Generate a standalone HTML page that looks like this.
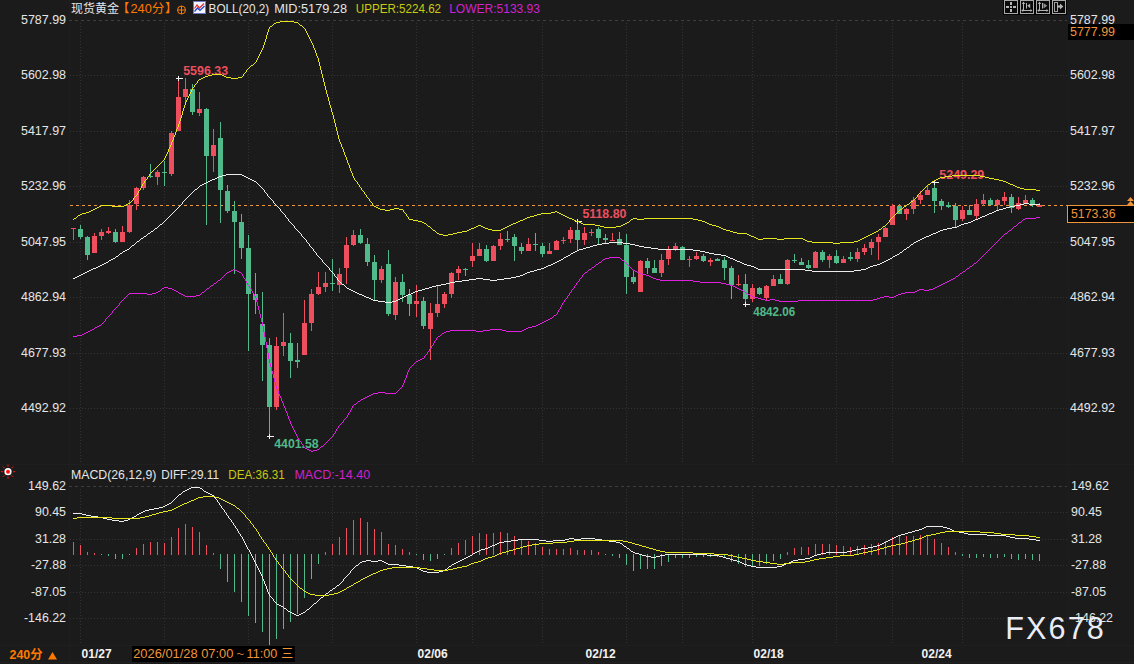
<!DOCTYPE html>
<html lang="zh"><head><meta charset="utf-8"><title>现货黄金 240分</title>
<style>html,body{margin:0;padding:0;background:#1b1b1b;}body{width:1134px;height:664px;overflow:hidden}svg{display:block}</style>
</head><body>
<svg width="1134" height="664" viewBox="0 0 1134 664" font-family="'Liberation Sans','Noto Sans CJK SC',sans-serif" font-size="12">
<rect width="1134" height="664" fill="#1b1b1b"/>
<g shape-rendering="crispEdges" stroke="#1e1e1e" stroke-width="1" fill="none">
<line x1="69.5" y1="0" x2="69.5" y2="664"/>
<line x1="1068.5" y1="20" x2="1068.5" y2="645"/>
<line x1="0" y1="464.5" x2="1134" y2="464.5" stroke="#1f1f1f"/>
<line x1="0" y1="645.5" x2="1134" y2="645.5" stroke="#1f1f1f"/>
<line x1="0" y1="662.5" x2="1134" y2="662.5" stroke="#1f1f1f"/>
</g>
<g shape-rendering="crispEdges" stroke="#333333" stroke-width="1" fill="none">
<line x1="69" y1="20.5" x2="1067" y2="20.5" stroke="#3e3e3e" stroke-dasharray="3 3"/>
<line x1="70" y1="75.5" x2="1067" y2="75.5" stroke-dasharray="1 2"/>
<line x1="70" y1="131.5" x2="1067" y2="131.5" stroke-dasharray="1 2"/>
<line x1="70" y1="186.5" x2="1067" y2="186.5" stroke-dasharray="1 2"/>
<line x1="70" y1="242.5" x2="1067" y2="242.5" stroke-dasharray="1 2"/>
<line x1="70" y1="297.5" x2="1067" y2="297.5" stroke-dasharray="1 2"/>
<line x1="70" y1="353.5" x2="1067" y2="353.5" stroke-dasharray="1 2"/>
<line x1="70" y1="408.5" x2="1067" y2="408.5" stroke-dasharray="1 2"/>
<line x1="69" y1="486.5" x2="1067" y2="486.5" stroke="#3e3e3e" stroke-dasharray="3 3"/>
<line x1="70" y1="512.5" x2="1067" y2="512.5" stroke-dasharray="1 2"/>
<line x1="70" y1="539.5" x2="1067" y2="539.5" stroke-dasharray="1 2"/>
<line x1="70" y1="565.5" x2="1067" y2="565.5" stroke-dasharray="1 2"/>
<line x1="70" y1="592.5" x2="1067" y2="592.5" stroke-dasharray="1 2"/>
<line x1="70" y1="618.5" x2="1067" y2="618.5" stroke-dasharray="1 2"/>
<line x1="80.5" y1="23" x2="80.5" y2="462" stroke-dasharray="1 2"/>
<line x1="80.5" y1="489" x2="80.5" y2="644" stroke-dasharray="1 2"/>
<line x1="164.5" y1="23" x2="164.5" y2="462" stroke-dasharray="1 2"/>
<line x1="164.5" y1="489" x2="164.5" y2="644" stroke-dasharray="1 2"/>
<line x1="248.5" y1="23" x2="248.5" y2="462" stroke-dasharray="1 2"/>
<line x1="248.5" y1="489" x2="248.5" y2="644" stroke-dasharray="1 2"/>
<line x1="332.5" y1="23" x2="332.5" y2="462" stroke-dasharray="1 2"/>
<line x1="332.5" y1="489" x2="332.5" y2="644" stroke-dasharray="1 2"/>
<line x1="416.5" y1="23" x2="416.5" y2="462" stroke-dasharray="1 2"/>
<line x1="416.5" y1="489" x2="416.5" y2="644" stroke-dasharray="1 2"/>
<line x1="472.5" y1="23" x2="472.5" y2="462" stroke-dasharray="1 2"/>
<line x1="472.5" y1="489" x2="472.5" y2="644" stroke-dasharray="1 2"/>
<line x1="542.5" y1="23" x2="542.5" y2="462" stroke-dasharray="1 2"/>
<line x1="542.5" y1="489" x2="542.5" y2="644" stroke-dasharray="1 2"/>
<line x1="626.5" y1="23" x2="626.5" y2="462" stroke-dasharray="1 2"/>
<line x1="626.5" y1="489" x2="626.5" y2="644" stroke-dasharray="1 2"/>
<line x1="682.5" y1="23" x2="682.5" y2="462" stroke-dasharray="1 2"/>
<line x1="682.5" y1="489" x2="682.5" y2="644" stroke-dasharray="1 2"/>
<line x1="752.5" y1="23" x2="752.5" y2="462" stroke-dasharray="1 2"/>
<line x1="752.5" y1="489" x2="752.5" y2="644" stroke-dasharray="1 2"/>
<line x1="836.5" y1="23" x2="836.5" y2="462" stroke-dasharray="1 2"/>
<line x1="836.5" y1="489" x2="836.5" y2="644" stroke-dasharray="1 2"/>
<line x1="892.5" y1="23" x2="892.5" y2="462" stroke-dasharray="1 2"/>
<line x1="892.5" y1="489" x2="892.5" y2="644" stroke-dasharray="1 2"/>
<line x1="962.5" y1="23" x2="962.5" y2="462" stroke-dasharray="1 2"/>
<line x1="962.5" y1="489" x2="962.5" y2="644" stroke-dasharray="1 2"/>
</g>
<text x="66" y="24.3" text-anchor="end" fill="#e6e6e6" textLength="45" lengthAdjust="spacingAndGlyphs">5787.99</text>
<text x="1070" y="24.3" text-anchor="start" fill="#e6e6e6" textLength="45" lengthAdjust="spacingAndGlyphs">5787.99</text>
<text x="66" y="79.4" text-anchor="end" fill="#e6e6e6" textLength="45" lengthAdjust="spacingAndGlyphs">5602.98</text>
<text x="1070" y="79.4" text-anchor="start" fill="#e6e6e6" textLength="45" lengthAdjust="spacingAndGlyphs">5602.98</text>
<text x="66" y="134.9" text-anchor="end" fill="#e6e6e6" textLength="45" lengthAdjust="spacingAndGlyphs">5417.97</text>
<text x="1070" y="134.9" text-anchor="start" fill="#e6e6e6" textLength="45" lengthAdjust="spacingAndGlyphs">5417.97</text>
<text x="66" y="190.4" text-anchor="end" fill="#e6e6e6" textLength="45" lengthAdjust="spacingAndGlyphs">5232.96</text>
<text x="1070" y="190.4" text-anchor="start" fill="#e6e6e6" textLength="45" lengthAdjust="spacingAndGlyphs">5232.96</text>
<text x="66" y="245.9" text-anchor="end" fill="#e6e6e6" textLength="45" lengthAdjust="spacingAndGlyphs">5047.95</text>
<text x="1070" y="245.9" text-anchor="start" fill="#e6e6e6" textLength="45" lengthAdjust="spacingAndGlyphs">5047.95</text>
<text x="66" y="301.4" text-anchor="end" fill="#e6e6e6" textLength="45" lengthAdjust="spacingAndGlyphs">4862.94</text>
<text x="1070" y="301.4" text-anchor="start" fill="#e6e6e6" textLength="45" lengthAdjust="spacingAndGlyphs">4862.94</text>
<text x="66" y="356.9" text-anchor="end" fill="#e6e6e6" textLength="45" lengthAdjust="spacingAndGlyphs">4677.93</text>
<text x="1070" y="356.9" text-anchor="start" fill="#e6e6e6" textLength="45" lengthAdjust="spacingAndGlyphs">4677.93</text>
<text x="66" y="412.4" text-anchor="end" fill="#e6e6e6" textLength="45" lengthAdjust="spacingAndGlyphs">4492.92</text>
<text x="1070" y="412.4" text-anchor="start" fill="#e6e6e6" textLength="45" lengthAdjust="spacingAndGlyphs">4492.92</text>
<text x="66" y="490.3" text-anchor="end" fill="#e6e6e6" textLength="38" lengthAdjust="spacingAndGlyphs">149.62</text>
<text x="1071" y="490.3" text-anchor="start" fill="#e6e6e6" textLength="38" lengthAdjust="spacingAndGlyphs">149.62</text>
<text x="66" y="516.4" text-anchor="end" fill="#e6e6e6" textLength="31" lengthAdjust="spacingAndGlyphs">90.45</text>
<text x="1071" y="516.4" text-anchor="start" fill="#e6e6e6" textLength="31" lengthAdjust="spacingAndGlyphs">90.45</text>
<text x="66" y="542.9" text-anchor="end" fill="#e6e6e6" textLength="31" lengthAdjust="spacingAndGlyphs">31.28</text>
<text x="1071" y="542.9" text-anchor="start" fill="#e6e6e6" textLength="31" lengthAdjust="spacingAndGlyphs">31.28</text>
<text x="66" y="569.2" text-anchor="end" fill="#e6e6e6" textLength="35" lengthAdjust="spacingAndGlyphs">-27.88</text>
<text x="1071" y="569.2" text-anchor="start" fill="#e6e6e6" textLength="35" lengthAdjust="spacingAndGlyphs">-27.88</text>
<text x="66" y="595.9" text-anchor="end" fill="#e6e6e6" textLength="35" lengthAdjust="spacingAndGlyphs">-87.05</text>
<text x="1071" y="595.9" text-anchor="start" fill="#e6e6e6" textLength="35" lengthAdjust="spacingAndGlyphs">-87.05</text>
<text x="66" y="622.2" text-anchor="end" fill="#e6e6e6" textLength="42" lengthAdjust="spacingAndGlyphs">-146.22</text>
<text x="1071" y="622.2" text-anchor="start" fill="#e6e6e6" textLength="42" lengthAdjust="spacingAndGlyphs">-146.22</text>
<line x1="70" y1="205.5" x2="1067" y2="205.5" stroke="#f0953a" stroke-width="1" stroke-dasharray="3 3" shape-rendering="crispEdges"/>
<g shape-rendering="crispEdges">
<rect x="73" y="228" width="1" height="12" fill="#ee4f5e"/>
<rect x="71" y="228" width="5" height="1" fill="#ee4f5e"/>
<rect x="80" y="225" width="1" height="14" fill="#52b98a"/>
<rect x="78" y="229" width="5" height="8" fill="#52b98a"/>
<rect x="87" y="236" width="1" height="24" fill="#52b98a"/>
<rect x="85" y="237" width="5" height="18" fill="#52b98a"/>
<rect x="94" y="233" width="1" height="20" fill="#ee4f5e"/>
<rect x="92" y="236" width="5" height="17" fill="#ee4f5e"/>
<rect x="101" y="229" width="1" height="11" fill="#ee4f5e"/>
<rect x="99" y="232" width="5" height="4" fill="#ee4f5e"/>
<rect x="108" y="227" width="1" height="7" fill="#ee4f5e"/>
<rect x="106" y="231" width="5" height="2" fill="#ee4f5e"/>
<rect x="115" y="229" width="1" height="14" fill="#52b98a"/>
<rect x="113" y="232" width="5" height="10" fill="#52b98a"/>
<rect x="122" y="226" width="1" height="16" fill="#ee4f5e"/>
<rect x="120" y="232" width="5" height="10" fill="#ee4f5e"/>
<rect x="129" y="200" width="1" height="33" fill="#ee4f5e"/>
<rect x="127" y="205" width="5" height="27" fill="#ee4f5e"/>
<rect x="136" y="187" width="1" height="23" fill="#ee4f5e"/>
<rect x="134" y="188" width="5" height="16" fill="#ee4f5e"/>
<rect x="143" y="176" width="1" height="14" fill="#ee4f5e"/>
<rect x="141" y="177" width="5" height="11" fill="#ee4f5e"/>
<rect x="150" y="164" width="1" height="14" fill="#52b98a"/>
<rect x="148" y="176" width="5" height="1" fill="#52b98a"/>
<rect x="157" y="170" width="1" height="15" fill="#ee4f5e"/>
<rect x="155" y="172" width="5" height="5" fill="#ee4f5e"/>
<rect x="164" y="161" width="1" height="25" fill="#52b98a"/>
<rect x="162" y="172" width="5" height="1" fill="#52b98a"/>
<rect x="171" y="131" width="1" height="45" fill="#ee4f5e"/>
<rect x="169" y="133" width="5" height="41" fill="#ee4f5e"/>
<rect x="178" y="78" width="1" height="53" fill="#ee4f5e"/>
<rect x="176" y="97" width="5" height="34" fill="#ee4f5e"/>
<rect x="185" y="78" width="1" height="25" fill="#ee4f5e"/>
<rect x="183" y="89" width="5" height="8" fill="#ee4f5e"/>
<rect x="192" y="84" width="1" height="31" fill="#52b98a"/>
<rect x="190" y="89" width="5" height="23" fill="#52b98a"/>
<rect x="199" y="92" width="1" height="24" fill="#ee4f5e"/>
<rect x="197" y="109" width="5" height="4" fill="#ee4f5e"/>
<rect x="206" y="108" width="1" height="117" fill="#52b98a"/>
<rect x="204" y="109" width="5" height="47" fill="#52b98a"/>
<rect x="213" y="129" width="1" height="43" fill="#ee4f5e"/>
<rect x="211" y="145" width="5" height="11" fill="#ee4f5e"/>
<rect x="220" y="122" width="1" height="101" fill="#52b98a"/>
<rect x="218" y="138" width="5" height="52" fill="#52b98a"/>
<rect x="227" y="185" width="1" height="28" fill="#52b98a"/>
<rect x="225" y="191" width="5" height="20" fill="#52b98a"/>
<rect x="234" y="201" width="1" height="73" fill="#52b98a"/>
<rect x="232" y="211" width="5" height="11" fill="#52b98a"/>
<rect x="241" y="214" width="1" height="45" fill="#52b98a"/>
<rect x="239" y="222" width="5" height="26" fill="#52b98a"/>
<rect x="248" y="235" width="1" height="116" fill="#52b98a"/>
<rect x="246" y="248" width="5" height="46" fill="#52b98a"/>
<rect x="255" y="273" width="1" height="41" fill="#52b98a"/>
<rect x="253" y="294" width="5" height="6" fill="#52b98a"/>
<rect x="262" y="292" width="1" height="89" fill="#52b98a"/>
<rect x="260" y="324" width="5" height="21" fill="#52b98a"/>
<rect x="269" y="338" width="1" height="98" fill="#52b98a"/>
<rect x="267" y="345" width="5" height="62" fill="#52b98a"/>
<rect x="276" y="337" width="1" height="73" fill="#ee4f5e"/>
<rect x="274" y="346" width="5" height="61" fill="#ee4f5e"/>
<rect x="283" y="313" width="1" height="43" fill="#ee4f5e"/>
<rect x="281" y="342" width="5" height="4" fill="#ee4f5e"/>
<rect x="290" y="333" width="1" height="45" fill="#52b98a"/>
<rect x="288" y="343" width="5" height="18" fill="#52b98a"/>
<rect x="297" y="343" width="1" height="25" fill="#52b98a"/>
<rect x="295" y="360" width="5" height="2" fill="#52b98a"/>
<rect x="304" y="300" width="1" height="55" fill="#ee4f5e"/>
<rect x="302" y="323" width="5" height="32" fill="#ee4f5e"/>
<rect x="311" y="289" width="1" height="42" fill="#ee4f5e"/>
<rect x="309" y="294" width="5" height="29" fill="#ee4f5e"/>
<rect x="318" y="272" width="1" height="23" fill="#ee4f5e"/>
<rect x="316" y="287" width="5" height="7" fill="#ee4f5e"/>
<rect x="325" y="272" width="1" height="20" fill="#ee4f5e"/>
<rect x="323" y="283" width="5" height="4" fill="#ee4f5e"/>
<rect x="332" y="259" width="1" height="32" fill="#52b98a"/>
<rect x="330" y="283" width="5" height="1" fill="#52b98a"/>
<rect x="339" y="268" width="1" height="25" fill="#ee4f5e"/>
<rect x="337" y="274" width="5" height="11" fill="#ee4f5e"/>
<rect x="346" y="237" width="1" height="47" fill="#ee4f5e"/>
<rect x="344" y="245" width="5" height="23" fill="#ee4f5e"/>
<rect x="353" y="230" width="1" height="16" fill="#ee4f5e"/>
<rect x="351" y="235" width="5" height="10" fill="#ee4f5e"/>
<rect x="360" y="229" width="1" height="15" fill="#52b98a"/>
<rect x="358" y="235" width="5" height="8" fill="#52b98a"/>
<rect x="367" y="238" width="1" height="28" fill="#52b98a"/>
<rect x="365" y="244" width="5" height="18" fill="#52b98a"/>
<rect x="374" y="255" width="1" height="45" fill="#52b98a"/>
<rect x="372" y="262" width="5" height="18" fill="#52b98a"/>
<rect x="381" y="266" width="1" height="17" fill="#ee4f5e"/>
<rect x="379" y="269" width="5" height="11" fill="#ee4f5e"/>
<rect x="388" y="250" width="1" height="66" fill="#52b98a"/>
<rect x="386" y="264" width="5" height="50" fill="#52b98a"/>
<rect x="395" y="277" width="1" height="43" fill="#ee4f5e"/>
<rect x="393" y="282" width="5" height="33" fill="#ee4f5e"/>
<rect x="402" y="274" width="1" height="28" fill="#52b98a"/>
<rect x="400" y="282" width="5" height="13" fill="#52b98a"/>
<rect x="409" y="289" width="1" height="27" fill="#52b98a"/>
<rect x="407" y="295" width="5" height="9" fill="#52b98a"/>
<rect x="416" y="285" width="1" height="32" fill="#ee4f5e"/>
<rect x="414" y="301" width="5" height="3" fill="#ee4f5e"/>
<rect x="423" y="297" width="1" height="32" fill="#52b98a"/>
<rect x="421" y="301" width="5" height="25" fill="#52b98a"/>
<rect x="430" y="303" width="1" height="57" fill="#ee4f5e"/>
<rect x="428" y="313" width="5" height="16" fill="#ee4f5e"/>
<rect x="437" y="286" width="1" height="31" fill="#ee4f5e"/>
<rect x="435" y="304" width="5" height="9" fill="#ee4f5e"/>
<rect x="444" y="292" width="1" height="16" fill="#ee4f5e"/>
<rect x="442" y="294" width="5" height="10" fill="#ee4f5e"/>
<rect x="451" y="272" width="1" height="26" fill="#ee4f5e"/>
<rect x="449" y="273" width="5" height="21" fill="#ee4f5e"/>
<rect x="458" y="266" width="1" height="14" fill="#ee4f5e"/>
<rect x="456" y="269" width="5" height="4" fill="#ee4f5e"/>
<rect x="465" y="268" width="1" height="8" fill="#52b98a"/>
<rect x="463" y="269" width="5" height="1" fill="#52b98a"/>
<rect x="472" y="243" width="1" height="24" fill="#ee4f5e"/>
<rect x="470" y="256" width="5" height="5" fill="#ee4f5e"/>
<rect x="479" y="243" width="1" height="13" fill="#ee4f5e"/>
<rect x="477" y="249" width="5" height="7" fill="#ee4f5e"/>
<rect x="486" y="245" width="1" height="17" fill="#52b98a"/>
<rect x="484" y="249" width="5" height="12" fill="#52b98a"/>
<rect x="493" y="245" width="1" height="16" fill="#ee4f5e"/>
<rect x="491" y="246" width="5" height="15" fill="#ee4f5e"/>
<rect x="500" y="233" width="1" height="17" fill="#ee4f5e"/>
<rect x="498" y="239" width="5" height="7" fill="#ee4f5e"/>
<rect x="507" y="231" width="1" height="11" fill="#52b98a"/>
<rect x="505" y="239" width="5" height="1" fill="#52b98a"/>
<rect x="514" y="234" width="1" height="27" fill="#52b98a"/>
<rect x="512" y="237" width="5" height="9" fill="#52b98a"/>
<rect x="521" y="243" width="1" height="11" fill="#52b98a"/>
<rect x="519" y="247" width="5" height="4" fill="#52b98a"/>
<rect x="528" y="238" width="1" height="13" fill="#ee4f5e"/>
<rect x="526" y="244" width="5" height="7" fill="#ee4f5e"/>
<rect x="535" y="233" width="1" height="18" fill="#52b98a"/>
<rect x="533" y="244" width="5" height="1" fill="#52b98a"/>
<rect x="542" y="243" width="1" height="14" fill="#52b98a"/>
<rect x="540" y="246" width="5" height="8" fill="#52b98a"/>
<rect x="549" y="243" width="1" height="11" fill="#ee4f5e"/>
<rect x="547" y="251" width="5" height="3" fill="#ee4f5e"/>
<rect x="556" y="240" width="1" height="10" fill="#ee4f5e"/>
<rect x="554" y="241" width="5" height="9" fill="#ee4f5e"/>
<rect x="563" y="237" width="1" height="7" fill="#ee4f5e"/>
<rect x="561" y="240" width="5" height="1" fill="#ee4f5e"/>
<rect x="570" y="227" width="1" height="16" fill="#ee4f5e"/>
<rect x="568" y="230" width="5" height="9" fill="#ee4f5e"/>
<rect x="577" y="221" width="1" height="30" fill="#52b98a"/>
<rect x="575" y="230" width="5" height="10" fill="#52b98a"/>
<rect x="584" y="227" width="1" height="18" fill="#ee4f5e"/>
<rect x="582" y="233" width="5" height="7" fill="#ee4f5e"/>
<rect x="591" y="229" width="1" height="7" fill="#ee4f5e"/>
<rect x="589" y="232" width="5" height="1" fill="#ee4f5e"/>
<rect x="598" y="227" width="1" height="17" fill="#52b98a"/>
<rect x="596" y="229" width="5" height="9" fill="#52b98a"/>
<rect x="605" y="234" width="1" height="9" fill="#52b98a"/>
<rect x="603" y="238" width="5" height="2" fill="#52b98a"/>
<rect x="612" y="233" width="1" height="8" fill="#ee4f5e"/>
<rect x="610" y="240" width="5" height="1" fill="#ee4f5e"/>
<rect x="619" y="232" width="1" height="13" fill="#52b98a"/>
<rect x="617" y="239" width="5" height="6" fill="#52b98a"/>
<rect x="626" y="234" width="1" height="60" fill="#52b98a"/>
<rect x="624" y="245" width="5" height="32" fill="#52b98a"/>
<rect x="633" y="271" width="1" height="13" fill="#52b98a"/>
<rect x="631" y="277" width="5" height="5" fill="#52b98a"/>
<rect x="640" y="260" width="1" height="32" fill="#ee4f5e"/>
<rect x="638" y="261" width="5" height="31" fill="#ee4f5e"/>
<rect x="647" y="258" width="1" height="16" fill="#52b98a"/>
<rect x="645" y="261" width="5" height="7" fill="#52b98a"/>
<rect x="654" y="260" width="1" height="13" fill="#52b98a"/>
<rect x="652" y="268" width="5" height="5" fill="#52b98a"/>
<rect x="661" y="254" width="1" height="23" fill="#ee4f5e"/>
<rect x="659" y="260" width="5" height="13" fill="#ee4f5e"/>
<rect x="668" y="246" width="1" height="19" fill="#ee4f5e"/>
<rect x="666" y="250" width="5" height="9" fill="#ee4f5e"/>
<rect x="675" y="243" width="1" height="8" fill="#ee4f5e"/>
<rect x="673" y="246" width="5" height="4" fill="#ee4f5e"/>
<rect x="682" y="246" width="1" height="14" fill="#52b98a"/>
<rect x="680" y="247" width="5" height="13" fill="#52b98a"/>
<rect x="689" y="256" width="1" height="11" fill="#ee4f5e"/>
<rect x="687" y="259" width="5" height="1" fill="#ee4f5e"/>
<rect x="696" y="252" width="1" height="8" fill="#ee4f5e"/>
<rect x="694" y="256" width="5" height="3" fill="#ee4f5e"/>
<rect x="703" y="254" width="1" height="8" fill="#52b98a"/>
<rect x="701" y="256" width="5" height="5" fill="#52b98a"/>
<rect x="710" y="258" width="1" height="8" fill="#ee4f5e"/>
<rect x="708" y="260" width="5" height="2" fill="#ee4f5e"/>
<rect x="717" y="258" width="1" height="3" fill="#52b98a"/>
<rect x="715" y="259" width="5" height="2" fill="#52b98a"/>
<rect x="724" y="257" width="1" height="23" fill="#52b98a"/>
<rect x="722" y="260" width="5" height="8" fill="#52b98a"/>
<rect x="731" y="266" width="1" height="33" fill="#52b98a"/>
<rect x="729" y="268" width="5" height="17" fill="#52b98a"/>
<rect x="738" y="275" width="1" height="11" fill="#ee4f5e"/>
<rect x="736" y="284" width="5" height="1" fill="#ee4f5e"/>
<rect x="745" y="274" width="1" height="31" fill="#52b98a"/>
<rect x="743" y="284" width="5" height="15" fill="#52b98a"/>
<rect x="752" y="284" width="1" height="18" fill="#ee4f5e"/>
<rect x="750" y="288" width="5" height="11" fill="#ee4f5e"/>
<rect x="759" y="287" width="1" height="8" fill="#52b98a"/>
<rect x="757" y="288" width="5" height="6" fill="#52b98a"/>
<rect x="766" y="285" width="1" height="16" fill="#ee4f5e"/>
<rect x="764" y="286" width="5" height="12" fill="#ee4f5e"/>
<rect x="773" y="275" width="1" height="11" fill="#ee4f5e"/>
<rect x="771" y="279" width="5" height="7" fill="#ee4f5e"/>
<rect x="780" y="274" width="1" height="10" fill="#52b98a"/>
<rect x="778" y="279" width="5" height="5" fill="#52b98a"/>
<rect x="787" y="259" width="1" height="26" fill="#ee4f5e"/>
<rect x="785" y="260" width="5" height="24" fill="#ee4f5e"/>
<rect x="794" y="254" width="1" height="9" fill="#52b98a"/>
<rect x="792" y="260" width="5" height="1" fill="#52b98a"/>
<rect x="801" y="258" width="1" height="7" fill="#52b98a"/>
<rect x="799" y="262" width="5" height="3" fill="#52b98a"/>
<rect x="808" y="260" width="1" height="9" fill="#52b98a"/>
<rect x="806" y="265" width="5" height="3" fill="#52b98a"/>
<rect x="815" y="251" width="1" height="17" fill="#ee4f5e"/>
<rect x="813" y="252" width="5" height="16" fill="#ee4f5e"/>
<rect x="822" y="250" width="1" height="12" fill="#52b98a"/>
<rect x="820" y="252" width="5" height="8" fill="#52b98a"/>
<rect x="829" y="254" width="1" height="14" fill="#ee4f5e"/>
<rect x="827" y="256" width="5" height="4" fill="#ee4f5e"/>
<rect x="836" y="250" width="1" height="14" fill="#52b98a"/>
<rect x="834" y="256" width="5" height="7" fill="#52b98a"/>
<rect x="843" y="256" width="1" height="7" fill="#ee4f5e"/>
<rect x="841" y="259" width="5" height="4" fill="#ee4f5e"/>
<rect x="850" y="252" width="1" height="9" fill="#52b98a"/>
<rect x="848" y="257" width="5" height="2" fill="#52b98a"/>
<rect x="857" y="248" width="1" height="14" fill="#ee4f5e"/>
<rect x="855" y="252" width="5" height="7" fill="#ee4f5e"/>
<rect x="864" y="244" width="1" height="11" fill="#ee4f5e"/>
<rect x="862" y="248" width="5" height="4" fill="#ee4f5e"/>
<rect x="871" y="239" width="1" height="16" fill="#ee4f5e"/>
<rect x="869" y="242" width="5" height="6" fill="#ee4f5e"/>
<rect x="878" y="234" width="1" height="26" fill="#ee4f5e"/>
<rect x="876" y="237" width="5" height="5" fill="#ee4f5e"/>
<rect x="885" y="227" width="1" height="10" fill="#ee4f5e"/>
<rect x="883" y="228" width="5" height="9" fill="#ee4f5e"/>
<rect x="892" y="204" width="1" height="21" fill="#ee4f5e"/>
<rect x="890" y="206" width="5" height="19" fill="#ee4f5e"/>
<rect x="899" y="204" width="1" height="10" fill="#52b98a"/>
<rect x="897" y="206" width="5" height="8" fill="#52b98a"/>
<rect x="906" y="208" width="1" height="12" fill="#ee4f5e"/>
<rect x="904" y="209" width="5" height="5" fill="#ee4f5e"/>
<rect x="913" y="197" width="1" height="17" fill="#ee4f5e"/>
<rect x="911" y="200" width="5" height="9" fill="#ee4f5e"/>
<rect x="920" y="191" width="1" height="13" fill="#ee4f5e"/>
<rect x="918" y="195" width="5" height="5" fill="#ee4f5e"/>
<rect x="927" y="186" width="1" height="9" fill="#ee4f5e"/>
<rect x="925" y="190" width="5" height="5" fill="#ee4f5e"/>
<rect x="934" y="182" width="1" height="31" fill="#52b98a"/>
<rect x="932" y="188" width="5" height="13" fill="#52b98a"/>
<rect x="941" y="199" width="1" height="11" fill="#52b98a"/>
<rect x="939" y="201" width="5" height="5" fill="#52b98a"/>
<rect x="948" y="202" width="1" height="6" fill="#52b98a"/>
<rect x="946" y="205" width="5" height="2" fill="#52b98a"/>
<rect x="955" y="203" width="1" height="25" fill="#52b98a"/>
<rect x="953" y="206" width="5" height="14" fill="#52b98a"/>
<rect x="962" y="206" width="1" height="15" fill="#ee4f5e"/>
<rect x="960" y="210" width="5" height="9" fill="#ee4f5e"/>
<rect x="969" y="205" width="1" height="10" fill="#52b98a"/>
<rect x="967" y="210" width="5" height="5" fill="#52b98a"/>
<rect x="976" y="199" width="1" height="20" fill="#ee4f5e"/>
<rect x="974" y="204" width="5" height="12" fill="#ee4f5e"/>
<rect x="983" y="194" width="1" height="12" fill="#ee4f5e"/>
<rect x="981" y="200" width="5" height="4" fill="#ee4f5e"/>
<rect x="990" y="198" width="1" height="7" fill="#52b98a"/>
<rect x="988" y="200" width="5" height="5" fill="#52b98a"/>
<rect x="997" y="199" width="1" height="11" fill="#ee4f5e"/>
<rect x="995" y="200" width="5" height="5" fill="#ee4f5e"/>
<rect x="1004" y="192" width="1" height="13" fill="#ee4f5e"/>
<rect x="1002" y="197" width="5" height="4" fill="#ee4f5e"/>
<rect x="1011" y="194" width="1" height="19" fill="#52b98a"/>
<rect x="1009" y="197" width="5" height="11" fill="#52b98a"/>
<rect x="1018" y="197" width="1" height="13" fill="#ee4f5e"/>
<rect x="1016" y="203" width="5" height="6" fill="#ee4f5e"/>
<rect x="1025" y="195" width="1" height="9" fill="#ee4f5e"/>
<rect x="1023" y="200" width="5" height="4" fill="#ee4f5e"/>
<rect x="1032" y="198" width="1" height="9" fill="#52b98a"/>
<rect x="1030" y="200" width="5" height="5" fill="#52b98a"/>
<rect x="1039" y="203" width="1" height="4" fill="#ee4f5e"/>
<rect x="1037" y="205" width="5" height="2" fill="#ee4f5e"/>
</g>
<g shape-rendering="crispEdges">
<rect x="73" y="542" width="1" height="13" fill="#ee4f5e"/>
<rect x="80" y="545" width="1" height="10" fill="#ee4f5e"/>
<rect x="87" y="552" width="1" height="3" fill="#ee4f5e"/>
<rect x="94" y="553" width="1" height="2" fill="#ee4f5e"/>
<rect x="101" y="554" width="1" height="1" fill="#52b98a"/>
<rect x="108" y="554" width="1" height="2" fill="#52b98a"/>
<rect x="115" y="554" width="1" height="5" fill="#52b98a"/>
<rect x="122" y="554" width="1" height="5" fill="#52b98a"/>
<rect x="129" y="554" width="1" height="1" fill="#52b98a"/>
<rect x="136" y="548" width="1" height="7" fill="#ee4f5e"/>
<rect x="143" y="544" width="1" height="11" fill="#ee4f5e"/>
<rect x="150" y="542" width="1" height="13" fill="#ee4f5e"/>
<rect x="157" y="542" width="1" height="13" fill="#ee4f5e"/>
<rect x="164" y="543" width="1" height="12" fill="#ee4f5e"/>
<rect x="171" y="537" width="1" height="18" fill="#ee4f5e"/>
<rect x="178" y="528" width="1" height="27" fill="#ee4f5e"/>
<rect x="185" y="524" width="1" height="31" fill="#ee4f5e"/>
<rect x="192" y="527" width="1" height="28" fill="#ee4f5e"/>
<rect x="199" y="532" width="1" height="23" fill="#ee4f5e"/>
<rect x="206" y="545" width="1" height="10" fill="#ee4f5e"/>
<rect x="213" y="553" width="1" height="2" fill="#ee4f5e"/>
<rect x="220" y="554" width="1" height="15" fill="#52b98a"/>
<rect x="227" y="554" width="1" height="28" fill="#52b98a"/>
<rect x="234" y="554" width="1" height="38" fill="#52b98a"/>
<rect x="241" y="554" width="1" height="48" fill="#52b98a"/>
<rect x="248" y="554" width="1" height="62" fill="#52b98a"/>
<rect x="255" y="554" width="1" height="69" fill="#52b98a"/>
<rect x="262" y="554" width="1" height="78" fill="#52b98a"/>
<rect x="269" y="554" width="1" height="91" fill="#52b98a"/>
<rect x="276" y="554" width="1" height="85" fill="#52b98a"/>
<rect x="283" y="554" width="1" height="75" fill="#52b98a"/>
<rect x="290" y="554" width="1" height="68" fill="#52b98a"/>
<rect x="297" y="554" width="1" height="60" fill="#52b98a"/>
<rect x="304" y="554" width="1" height="44" fill="#52b98a"/>
<rect x="311" y="554" width="1" height="25" fill="#52b98a"/>
<rect x="318" y="554" width="1" height="10" fill="#52b98a"/>
<rect x="325" y="552" width="1" height="3" fill="#ee4f5e"/>
<rect x="332" y="544" width="1" height="11" fill="#ee4f5e"/>
<rect x="339" y="537" width="1" height="18" fill="#ee4f5e"/>
<rect x="346" y="528" width="1" height="27" fill="#ee4f5e"/>
<rect x="353" y="520" width="1" height="35" fill="#ee4f5e"/>
<rect x="360" y="518" width="1" height="37" fill="#ee4f5e"/>
<rect x="367" y="522" width="1" height="33" fill="#ee4f5e"/>
<rect x="374" y="529" width="1" height="26" fill="#ee4f5e"/>
<rect x="381" y="532" width="1" height="23" fill="#ee4f5e"/>
<rect x="388" y="544" width="1" height="11" fill="#ee4f5e"/>
<rect x="395" y="545" width="1" height="10" fill="#ee4f5e"/>
<rect x="402" y="549" width="1" height="6" fill="#ee4f5e"/>
<rect x="409" y="552" width="1" height="3" fill="#ee4f5e"/>
<rect x="416" y="554" width="1" height="1" fill="#52b98a"/>
<rect x="423" y="554" width="1" height="6" fill="#52b98a"/>
<rect x="430" y="554" width="1" height="7" fill="#52b98a"/>
<rect x="437" y="554" width="1" height="5" fill="#52b98a"/>
<rect x="444" y="554" width="1" height="1" fill="#52b98a"/>
<rect x="451" y="548" width="1" height="7" fill="#ee4f5e"/>
<rect x="458" y="543" width="1" height="12" fill="#ee4f5e"/>
<rect x="465" y="540" width="1" height="15" fill="#ee4f5e"/>
<rect x="472" y="536" width="1" height="19" fill="#ee4f5e"/>
<rect x="479" y="533" width="1" height="22" fill="#ee4f5e"/>
<rect x="486" y="534" width="1" height="21" fill="#ee4f5e"/>
<rect x="493" y="533" width="1" height="22" fill="#ee4f5e"/>
<rect x="500" y="532" width="1" height="23" fill="#ee4f5e"/>
<rect x="507" y="533" width="1" height="22" fill="#ee4f5e"/>
<rect x="514" y="536" width="1" height="19" fill="#ee4f5e"/>
<rect x="521" y="539" width="1" height="16" fill="#ee4f5e"/>
<rect x="528" y="541" width="1" height="14" fill="#ee4f5e"/>
<rect x="535" y="543" width="1" height="12" fill="#ee4f5e"/>
<rect x="542" y="547" width="1" height="8" fill="#ee4f5e"/>
<rect x="549" y="549" width="1" height="6" fill="#ee4f5e"/>
<rect x="556" y="549" width="1" height="6" fill="#ee4f5e"/>
<rect x="563" y="549" width="1" height="6" fill="#ee4f5e"/>
<rect x="570" y="548" width="1" height="7" fill="#ee4f5e"/>
<rect x="577" y="550" width="1" height="5" fill="#ee4f5e"/>
<rect x="584" y="550" width="1" height="5" fill="#ee4f5e"/>
<rect x="591" y="550" width="1" height="5" fill="#ee4f5e"/>
<rect x="598" y="552" width="1" height="3" fill="#ee4f5e"/>
<rect x="605" y="554" width="1" height="1" fill="#52b98a"/>
<rect x="612" y="554" width="1" height="2" fill="#52b98a"/>
<rect x="619" y="554" width="1" height="4" fill="#52b98a"/>
<rect x="626" y="554" width="1" height="11" fill="#52b98a"/>
<rect x="633" y="554" width="1" height="17" fill="#52b98a"/>
<rect x="640" y="554" width="1" height="15" fill="#52b98a"/>
<rect x="647" y="554" width="1" height="15" fill="#52b98a"/>
<rect x="654" y="554" width="1" height="15" fill="#52b98a"/>
<rect x="661" y="554" width="1" height="12" fill="#52b98a"/>
<rect x="668" y="554" width="1" height="8" fill="#52b98a"/>
<rect x="675" y="554" width="1" height="4" fill="#52b98a"/>
<rect x="682" y="554" width="1" height="4" fill="#52b98a"/>
<rect x="689" y="554" width="1" height="4" fill="#52b98a"/>
<rect x="696" y="554" width="1" height="3" fill="#52b98a"/>
<rect x="703" y="554" width="1" height="3" fill="#52b98a"/>
<rect x="710" y="554" width="1" height="3" fill="#52b98a"/>
<rect x="717" y="554" width="1" height="3" fill="#52b98a"/>
<rect x="724" y="554" width="1" height="4" fill="#52b98a"/>
<rect x="731" y="554" width="1" height="8" fill="#52b98a"/>
<rect x="738" y="554" width="1" height="10" fill="#52b98a"/>
<rect x="745" y="554" width="1" height="13" fill="#52b98a"/>
<rect x="752" y="554" width="1" height="12" fill="#52b98a"/>
<rect x="759" y="554" width="1" height="12" fill="#52b98a"/>
<rect x="766" y="554" width="1" height="10" fill="#52b98a"/>
<rect x="773" y="554" width="1" height="7" fill="#52b98a"/>
<rect x="780" y="554" width="1" height="5" fill="#52b98a"/>
<rect x="787" y="552" width="1" height="3" fill="#ee4f5e"/>
<rect x="794" y="548" width="1" height="7" fill="#ee4f5e"/>
<rect x="801" y="547" width="1" height="8" fill="#ee4f5e"/>
<rect x="808" y="547" width="1" height="8" fill="#ee4f5e"/>
<rect x="815" y="544" width="1" height="11" fill="#ee4f5e"/>
<rect x="822" y="544" width="1" height="11" fill="#ee4f5e"/>
<rect x="829" y="544" width="1" height="11" fill="#ee4f5e"/>
<rect x="836" y="545" width="1" height="10" fill="#ee4f5e"/>
<rect x="843" y="546" width="1" height="9" fill="#ee4f5e"/>
<rect x="850" y="547" width="1" height="8" fill="#ee4f5e"/>
<rect x="857" y="546" width="1" height="9" fill="#ee4f5e"/>
<rect x="864" y="545" width="1" height="10" fill="#ee4f5e"/>
<rect x="871" y="544" width="1" height="11" fill="#ee4f5e"/>
<rect x="878" y="543" width="1" height="12" fill="#ee4f5e"/>
<rect x="885" y="541" width="1" height="14" fill="#ee4f5e"/>
<rect x="892" y="537" width="1" height="18" fill="#ee4f5e"/>
<rect x="899" y="536" width="1" height="19" fill="#ee4f5e"/>
<rect x="906" y="536" width="1" height="19" fill="#ee4f5e"/>
<rect x="913" y="536" width="1" height="19" fill="#ee4f5e"/>
<rect x="920" y="535" width="1" height="20" fill="#ee4f5e"/>
<rect x="927" y="536" width="1" height="19" fill="#ee4f5e"/>
<rect x="934" y="539" width="1" height="16" fill="#ee4f5e"/>
<rect x="941" y="543" width="1" height="12" fill="#ee4f5e"/>
<rect x="948" y="547" width="1" height="8" fill="#ee4f5e"/>
<rect x="955" y="552" width="1" height="3" fill="#ee4f5e"/>
<rect x="962" y="554" width="1" height="2" fill="#52b98a"/>
<rect x="969" y="554" width="1" height="4" fill="#52b98a"/>
<rect x="976" y="554" width="1" height="4" fill="#52b98a"/>
<rect x="983" y="554" width="1" height="3" fill="#52b98a"/>
<rect x="990" y="554" width="1" height="4" fill="#52b98a"/>
<rect x="997" y="554" width="1" height="4" fill="#52b98a"/>
<rect x="1004" y="554" width="1" height="3" fill="#52b98a"/>
<rect x="1011" y="554" width="1" height="5" fill="#52b98a"/>
<rect x="1018" y="554" width="1" height="6" fill="#52b98a"/>
<rect x="1025" y="554" width="1" height="5" fill="#52b98a"/>
<rect x="1032" y="554" width="1" height="6" fill="#52b98a"/>
<rect x="1039" y="554" width="1" height="7" fill="#52b98a"/>
</g>
<path d="M214 496h1v2h-1zM217 500h1v2h-1zM219 503h1v2h-1zM221 506h1v2h-1zM224 510h1v2h-1zM226 513h1v2h-1zM228 516h1v2h-1zM231 520h1v2h-1zM233 523h1v2h-1zM235 526h1v2h-1zM237 529h1v2h-1zM238 531h1v2h-1zM240 534h1v2h-1zM242 537h1v2h-1zM243 539h1v2h-1zM244 541h1v2h-1zM245 543h1v2h-1zM246 545h1v2h-1zM247 547h1v2h-1zM249 550h1v2h-1zM250 552h1v2h-1zM251 554h1v2h-1zM252 556h1v2h-1zM253 558h1v2h-1zM254 560h1v2h-1zM255 562h1v2h-1zM256 564h1v2h-1zM257 566h1v2h-1zM258 568h1v2h-1zM259 570h1v2h-1zM260 572h1v2h-1zM261 574h1v2h-1zM262 576h1v3h-1zM263 579h1v2h-1zM264 581h1v3h-1zM265 584h1v2h-1zM266 586h1v3h-1zM267 589h1v3h-1zM268 592h1v2h-1zM269 594h1v2h-1zM273 599h1v2h-1zM343 579h1v2h-1zM350 571h1v2h-1zM191 487h9v1h-9zM189 488h2v1h-2zM200 488h2v1h-2zM187 489h2v1h-2zM202 489h1v1h-1zM185 490h2v1h-2zM203 490h1v1h-1zM183 491h2v1h-2zM204 491h2v1h-2zM182 492h1v1h-1zM206 492h2v1h-2zM181 493h1v1h-1zM208 493h2v1h-2zM179 494h2v1h-2zM210 494h2v1h-2zM178 495h1v1h-1zM212 495h2v1h-2zM177 496h1v1h-1zM176 497h1v1h-1zM175 498h1v1h-1zM215 498h1v1h-1zM174 499h1v1h-1zM216 499h1v1h-1zM173 500h1v1h-1zM172 501h1v1h-1zM171 502h1v1h-1zM218 502h1v1h-1zM169 503h2v1h-2zM167 504h2v1h-2zM165 505h2v1h-2zM220 505h1v1h-1zM163 506h2v1h-2zM159 507h4v1h-4zM154 508h5v1h-5zM222 508h1v1h-1zM149 509h5v1h-5zM223 509h1v1h-1zM145 510h4v1h-4zM143 511h2v1h-2zM141 512h2v1h-2zM225 512h1v1h-1zM73 513h9v1h-9zM139 513h2v1h-2zM82 514h4v1h-4zM137 514h2v1h-2zM86 515h5v1h-5zM136 515h1v1h-1zM227 515h1v1h-1zM91 516h7v1h-7zM134 516h2v1h-2zM98 517h5v1h-5zM132 517h2v1h-2zM103 518h4v1h-4zM130 518h2v1h-2zM229 518h1v1h-1zM107 519h5v1h-5zM128 519h2v1h-2zM230 519h1v1h-1zM112 520h7v1h-7zM124 520h4v1h-4zM119 521h5v1h-5zM232 522h1v1h-1zM234 525h1v1h-1zM926 526h17v1h-17zM924 527h2v1h-2zM943 527h4v1h-4zM236 528h1v1h-1zM922 528h2v1h-2zM947 528h3v1h-3zM919 529h3v1h-3zM950 529h2v1h-2zM915 530h4v1h-4zM952 530h2v1h-2zM912 531h3v1h-3zM954 531h5v1h-5zM908 532h4v1h-4zM959 532h5v1h-5zM239 533h1v1h-1zM905 533h3v1h-3zM964 533h4v1h-4zM901 534h4v1h-4zM968 534h19v1h-19zM898 535h3v1h-3zM987 535h19v1h-19zM241 536h1v1h-1zM896 536h2v1h-2zM1006 536h4v1h-4zM894 537h2v1h-2zM1010 537h5v1h-5zM569 538h5v1h-5zM581 538h14v1h-14zM892 538h2v1h-2zM1015 538h14v1h-14zM518 539h21v1h-21zM565 539h4v1h-4zM574 539h7v1h-7zM595 539h7v1h-7zM890 539h2v1h-2zM1029 539h7v1h-7zM511 540h7v1h-7zM539 540h7v1h-7zM553 540h12v1h-12zM602 540h7v1h-7zM888 540h2v1h-2zM1036 540h4v1h-4zM504 541h7v1h-7zM546 541h7v1h-7zM609 541h7v1h-7zM886 541h2v1h-2zM499 542h5v1h-5zM616 542h4v1h-4zM884 542h2v1h-2zM497 543h2v1h-2zM620 543h2v1h-2zM882 543h2v1h-2zM495 544h2v1h-2zM622 544h1v1h-1zM880 544h2v1h-2zM492 545h3v1h-3zM623 545h1v1h-1zM877 545h3v1h-3zM490 546h2v1h-2zM624 546h2v1h-2zM873 546h4v1h-4zM488 547h2v1h-2zM626 547h1v1h-1zM868 547h5v1h-5zM485 548h3v1h-3zM627 548h2v1h-2zM861 548h7v1h-7zM248 549h1v1h-1zM481 549h4v1h-4zM629 549h1v1h-1zM856 549h5v1h-5zM479 550h2v1h-2zM630 550h1v1h-1zM852 550h4v1h-4zM477 551h2v1h-2zM631 551h2v1h-2zM847 551h5v1h-5zM475 552h2v1h-2zM633 552h2v1h-2zM826 552h21v1h-21zM473 553h2v1h-2zM635 553h4v1h-4zM821 553h5v1h-5zM472 554h1v1h-1zM639 554h3v1h-3zM665 554h42v1h-42zM817 554h4v1h-4zM470 555h2v1h-2zM642 555h4v1h-4zM660 555h5v1h-5zM707 555h12v1h-12zM814 555h3v1h-3zM468 556h2v1h-2zM646 556h5v1h-5zM656 556h4v1h-4zM719 556h4v1h-4zM812 556h2v1h-2zM466 557h2v1h-2zM651 557h5v1h-5zM723 557h3v1h-3zM810 557h2v1h-2zM464 558h2v1h-2zM726 558h4v1h-4zM805 558h5v1h-5zM462 559h2v1h-2zM730 559h3v1h-3zM798 559h7v1h-7zM366 560h5v1h-5zM378 560h4v1h-4zM460 560h2v1h-2zM733 560h4v1h-4zM793 560h5v1h-5zM362 561h4v1h-4zM371 561h7v1h-7zM382 561h2v1h-2zM458 561h2v1h-2zM737 561h3v1h-3zM791 561h2v1h-2zM360 562h2v1h-2zM384 562h2v1h-2zM456 562h2v1h-2zM740 562h2v1h-2zM789 562h2v1h-2zM359 563h1v1h-1zM386 563h2v1h-2zM454 563h2v1h-2zM742 563h2v1h-2zM786 563h3v1h-3zM358 564h1v1h-1zM388 564h11v1h-11zM452 564h2v1h-2zM744 564h3v1h-3zM784 564h2v1h-2zM356 565h2v1h-2zM399 565h7v1h-7zM451 565h1v1h-1zM747 565h4v1h-4zM782 565h2v1h-2zM355 566h1v1h-1zM406 566h7v1h-7zM449 566h2v1h-2zM751 566h5v1h-5zM777 566h5v1h-5zM354 567h1v1h-1zM413 567h4v1h-4zM448 567h1v1h-1zM756 567h21v1h-21zM353 568h1v1h-1zM417 568h2v1h-2zM447 568h1v1h-1zM352 569h1v1h-1zM419 569h2v1h-2zM445 569h2v1h-2zM351 570h1v1h-1zM421 570h2v1h-2zM443 570h2v1h-2zM423 571h4v1h-4zM439 571h4v1h-4zM427 572h12v1h-12zM349 573h1v1h-1zM348 574h1v1h-1zM347 575h1v1h-1zM346 576h1v1h-1zM345 577h1v1h-1zM344 578h1v1h-1zM342 581h1v1h-1zM341 582h1v1h-1zM340 583h1v1h-1zM339 584h1v1h-1zM337 585h2v1h-2zM336 586h1v1h-1zM335 587h1v1h-1zM333 588h2v1h-2zM332 589h1v1h-1zM330 590h2v1h-2zM329 591h1v1h-1zM328 592h1v1h-1zM326 593h2v1h-2zM325 594h1v1h-1zM324 595h1v1h-1zM270 596h1v1h-1zM323 596h1v1h-1zM271 597h1v1h-1zM321 597h2v1h-2zM272 598h1v1h-1zM320 598h1v1h-1zM319 599h1v1h-1zM318 600h1v1h-1zM274 601h1v1h-1zM317 601h1v1h-1zM275 602h1v1h-1zM316 602h1v1h-1zM276 603h1v1h-1zM314 603h2v1h-2zM277 604h2v1h-2zM313 604h1v1h-1zM279 605h2v1h-2zM312 605h1v1h-1zM281 606h2v1h-2zM311 606h1v1h-1zM283 607h1v1h-1zM310 607h1v1h-1zM284 608h2v1h-2zM309 608h1v1h-1zM286 609h1v1h-1zM307 609h2v1h-2zM287 610h1v1h-1zM306 610h1v1h-1zM288 611h2v1h-2zM305 611h1v1h-1zM290 612h2v1h-2zM303 612h2v1h-2zM292 613h2v1h-2zM301 613h2v1h-2zM294 614h2v1h-2zM299 614h2v1h-2zM296 615h3v1h-3z" fill="#ececec" shape-rendering="crispEdges"/>
<path d="M245 515h1v2h-1zM250 521h1v2h-1zM253 525h1v2h-1zM256 529h1v2h-1zM258 532h1v2h-1zM259 534h1v2h-1zM261 537h1v2h-1zM263 540h1v2h-1zM266 544h1v2h-1zM268 547h1v2h-1zM270 550h1v2h-1zM272 553h1v2h-1zM273 555h1v2h-1zM275 558h1v2h-1zM278 562h1v2h-1zM281 566h1v2h-1zM285 571h1v2h-1zM288 575h1v2h-1zM203 496h12v1h-12zM198 497h5v1h-5zM215 497h4v1h-4zM196 498h2v1h-2zM219 498h2v1h-2zM194 499h2v1h-2zM221 499h2v1h-2zM191 500h3v1h-3zM223 500h2v1h-2zM189 501h2v1h-2zM225 501h2v1h-2zM187 502h2v1h-2zM227 502h2v1h-2zM184 503h3v1h-3zM229 503h2v1h-2zM182 504h2v1h-2zM231 504h2v1h-2zM180 505h2v1h-2zM233 505h2v1h-2zM178 506h2v1h-2zM235 506h1v1h-1zM176 507h2v1h-2zM236 507h1v1h-1zM174 508h2v1h-2zM237 508h2v1h-2zM172 509h2v1h-2zM239 509h1v1h-1zM168 510h4v1h-4zM240 510h1v1h-1zM163 511h5v1h-5zM241 511h1v1h-1zM159 512h4v1h-4zM242 512h1v1h-1zM156 513h3v1h-3zM243 513h1v1h-1zM152 514h4v1h-4zM244 514h1v1h-1zM149 515h3v1h-3zM145 516h4v1h-4zM77 517h35v1h-35zM140 517h5v1h-5zM246 517h1v1h-1zM73 518h4v1h-4zM112 518h28v1h-28zM247 518h1v1h-1zM248 519h1v1h-1zM249 520h1v1h-1zM251 523h1v1h-1zM252 524h1v1h-1zM254 527h1v1h-1zM255 528h1v1h-1zM257 531h1v1h-1zM945 531h35v1h-35zM940 532h5v1h-5zM980 532h14v1h-14zM936 533h4v1h-4zM994 533h7v1h-7zM931 534h5v1h-5zM1001 534h14v1h-14zM926 535h5v1h-5zM1015 535h14v1h-14zM260 536h1v1h-1zM924 536h2v1h-2zM1029 536h7v1h-7zM922 537h2v1h-2zM1036 537h4v1h-4zM919 538h3v1h-3zM262 539h1v1h-1zM915 539h4v1h-4zM574 540h49v1h-49zM912 540h3v1h-3zM567 541h7v1h-7zM623 541h5v1h-5zM908 541h4v1h-4zM264 542h1v1h-1zM553 542h14v1h-14zM628 542h4v1h-4zM905 542h3v1h-3zM265 543h1v1h-1zM539 543h14v1h-14zM632 543h3v1h-3zM901 543h4v1h-4zM532 544h7v1h-7zM635 544h4v1h-4zM896 544h5v1h-5zM527 545h5v1h-5zM639 545h3v1h-3zM891 545h5v1h-5zM267 546h1v1h-1zM523 546h4v1h-4zM642 546h4v1h-4zM887 546h4v1h-4zM520 547h3v1h-3zM646 547h3v1h-3zM884 547h3v1h-3zM516 548h4v1h-4zM649 548h4v1h-4zM880 548h4v1h-4zM269 549h1v1h-1zM513 549h3v1h-3zM653 549h3v1h-3zM877 549h3v1h-3zM509 550h4v1h-4zM656 550h4v1h-4zM873 550h4v1h-4zM506 551h3v1h-3zM660 551h5v1h-5zM868 551h5v1h-5zM271 552h1v1h-1zM502 552h4v1h-4zM665 552h28v1h-28zM863 552h5v1h-5zM499 553h3v1h-3zM693 553h21v1h-21zM859 553h4v1h-4zM497 554h2v1h-2zM714 554h14v1h-14zM854 554h5v1h-5zM495 555h2v1h-2zM728 555h5v1h-5zM840 555h14v1h-14zM492 556h3v1h-3zM733 556h4v1h-4zM833 556h7v1h-7zM274 557h1v1h-1zM488 557h4v1h-4zM737 557h5v1h-5zM826 557h7v1h-7zM485 558h3v1h-3zM742 558h5v1h-5zM819 558h7v1h-7zM483 559h2v1h-2zM747 559h4v1h-4zM814 559h5v1h-5zM276 560h1v1h-1zM481 560h2v1h-2zM751 560h5v1h-5zM810 560h4v1h-4zM277 561h1v1h-1zM478 561h3v1h-3zM756 561h7v1h-7zM805 561h5v1h-5zM474 562h4v1h-4zM763 562h7v1h-7zM791 562h14v1h-14zM471 563h3v1h-3zM770 563h7v1h-7zM784 563h7v1h-7zM279 564h1v1h-1zM469 564h2v1h-2zM777 564h7v1h-7zM280 565h1v1h-1zM467 565h2v1h-2zM462 566h5v1h-5zM392 567h28v1h-28zM457 567h5v1h-5zM282 568h1v1h-1zM387 568h5v1h-5zM420 568h7v1h-7zM453 568h4v1h-4zM283 569h1v1h-1zM383 569h4v1h-4zM427 569h7v1h-7zM448 569h5v1h-5zM284 570h1v1h-1zM380 570h3v1h-3zM434 570h14v1h-14zM378 571h2v1h-2zM376 572h2v1h-2zM286 573h1v1h-1zM373 573h3v1h-3zM287 574h1v1h-1zM371 574h2v1h-2zM369 575h2v1h-2zM367 576h2v1h-2zM289 577h1v1h-1zM365 577h2v1h-2zM290 578h1v1h-1zM363 578h2v1h-2zM291 579h1v1h-1zM361 579h2v1h-2zM292 580h1v1h-1zM360 580h1v1h-1zM293 581h1v1h-1zM358 581h2v1h-2zM294 582h1v1h-1zM356 582h2v1h-2zM295 583h1v1h-1zM354 583h2v1h-2zM296 584h1v1h-1zM353 584h1v1h-1zM297 585h1v1h-1zM351 585h2v1h-2zM298 586h1v1h-1zM349 586h2v1h-2zM299 587h1v1h-1zM347 587h2v1h-2zM300 588h2v1h-2zM346 588h1v1h-1zM302 589h1v1h-1zM344 589h2v1h-2zM303 590h1v1h-1zM342 590h2v1h-2zM304 591h2v1h-2zM340 591h2v1h-2zM306 592h2v1h-2zM338 592h2v1h-2zM308 593h2v1h-2zM334 593h4v1h-4zM310 594h5v1h-5zM329 594h5v1h-5zM315 595h14v1h-14z" fill="#e6e61e" shape-rendering="crispEdges"/>
<g shape-rendering="crispEdges" fill="#f0f0f0">
<rect x="176" y="78" width="7" height="1"/><rect x="178" y="76" width="1" height="5"/>
<rect x="267" y="436" width="7" height="1"/><rect x="269" y="434" width="1" height="5"/>
<rect x="575" y="221" width="7" height="1"/><rect x="577" y="219" width="1" height="5"/>
<rect x="743" y="304" width="7" height="1"/><rect x="745" y="302" width="1" height="5"/>
<rect x="932" y="182" width="7" height="1"/><rect x="934" y="180" width="1" height="5"/>
</g>
<text x="183.2" y="74.6" fill="#ee4f5e" font-weight="bold" textLength="45" lengthAdjust="spacingAndGlyphs">5596.33</text>
<text x="274.2" y="448" fill="#52b98a" font-weight="bold" textLength="44.5" lengthAdjust="spacingAndGlyphs">4401.58</text>
<text x="582.4" y="217.7" fill="#ee4f5e" font-weight="bold" textLength="44" lengthAdjust="spacingAndGlyphs">5118.80</text>
<text x="753.2" y="315.8" fill="#52b98a" font-weight="bold" textLength="42" lengthAdjust="spacingAndGlyphs">4842.06</text>
<text x="939.3" y="178.6" fill="#ee4f5e" font-weight="bold" textLength="45" lengthAdjust="spacingAndGlyphs">5249.29</text>
<path d="M105 319h1v2h-1zM112 311h1v2h-1zM119 303h1v2h-1zM242 274h1v2h-1zM243 276h1v2h-1zM245 279h1v2h-1zM246 281h1v2h-1zM247 283h1v2h-1zM249 286h1v2h-1zM251 289h1v2h-1zM252 291h1v2h-1zM254 294h1v2h-1zM255 296h1v2h-1zM256 298h1v4h-1zM257 302h1v4h-1zM258 306h1v4h-1zM259 310h1v4h-1zM260 314h1v4h-1zM261 318h1v4h-1zM262 322h1v4h-1zM263 326h1v6h-1zM264 332h1v5h-1zM265 337h1v5h-1zM266 342h1v6h-1zM267 348h1v5h-1zM268 353h1v6h-1zM269 359h1v4h-1zM270 363h1v4h-1zM271 367h1v4h-1zM272 371h1v3h-1zM273 374h1v4h-1zM274 378h1v4h-1zM275 382h1v4h-1zM276 386h1v3h-1zM277 389h1v2h-1zM278 391h1v3h-1zM279 394h1v2h-1zM280 396h1v2h-1zM281 398h1v3h-1zM282 401h1v2h-1zM283 403h1v3h-1zM284 406h1v2h-1zM285 408h1v3h-1zM286 411h1v2h-1zM287 413h1v3h-1zM288 416h1v3h-1zM289 419h1v2h-1zM290 421h1v3h-1zM291 424h1v2h-1zM292 426h1v2h-1zM293 428h1v2h-1zM294 430h1v2h-1zM295 432h1v2h-1zM296 434h1v2h-1zM297 436h1v2h-1zM298 438h1v2h-1zM301 442h1v2h-1zM303 445h1v2h-1zM333 434h1v2h-1zM335 431h1v2h-1zM336 429h1v2h-1zM338 426h1v2h-1zM343 420h1v2h-1zM347 415h1v2h-1zM348 413h1v2h-1zM350 410h1v2h-1zM351 408h1v2h-1zM352 406h1v2h-1zM402 385h1v2h-1zM403 383h1v2h-1zM404 380h1v3h-1zM405 378h1v2h-1zM406 375h1v3h-1zM407 372h1v3h-1zM408 370h1v2h-1zM409 368h1v2h-1zM424 356h1v2h-1zM427 352h1v2h-1zM429 349h1v2h-1zM431 346h1v2h-1zM433 343h1v2h-1zM434 341h1v2h-1zM436 338h1v2h-1zM557 312h1v2h-1zM558 310h1v2h-1zM560 307h1v2h-1zM561 305h1v2h-1zM562 303h1v2h-1zM564 300h1v2h-1zM567 296h1v2h-1zM569 293h1v2h-1zM571 290h1v2h-1zM574 286h1v2h-1zM576 283h1v2h-1zM579 279h1v2h-1zM582 275h1v2h-1zM1036 217h4v1h-4zM1025 218h11v1h-11zM1023 219h2v1h-2zM1022 220h1v1h-1zM1021 221h1v1h-1zM1019 222h2v1h-2zM1018 223h1v1h-1zM1017 224h1v1h-1zM1016 225h1v1h-1zM1014 226h2v1h-2zM1013 227h1v1h-1zM1012 228h1v1h-1zM1011 229h1v1h-1zM1009 230h2v1h-2zM1008 231h1v1h-1zM1007 232h1v1h-1zM1005 233h2v1h-2zM1004 234h1v1h-1zM1003 235h1v1h-1zM1002 236h1v1h-1zM1001 237h1v1h-1zM1000 238h1v1h-1zM999 239h1v1h-1zM998 240h1v1h-1zM997 241h1v1h-1zM996 242h1v1h-1zM995 243h1v1h-1zM994 244h1v1h-1zM993 245h1v1h-1zM992 246h1v1h-1zM991 247h1v1h-1zM990 248h1v1h-1zM989 249h1v1h-1zM988 250h1v1h-1zM987 251h1v1h-1zM986 252h1v1h-1zM985 253h1v1h-1zM984 254h1v1h-1zM983 255h1v1h-1zM982 256h1v1h-1zM609 257h11v1h-11zM981 257h1v1h-1zM605 258h4v1h-4zM620 258h1v1h-1zM980 258h1v1h-1zM603 259h2v1h-2zM621 259h1v1h-1zM979 259h1v1h-1zM602 260h1v1h-1zM622 260h2v1h-2zM978 260h1v1h-1zM601 261h1v1h-1zM624 261h1v1h-1zM977 261h1v1h-1zM599 262h2v1h-2zM625 262h1v1h-1zM976 262h1v1h-1zM598 263h1v1h-1zM626 263h1v1h-1zM974 263h2v1h-2zM596 264h2v1h-2zM627 264h1v1h-1zM973 264h1v1h-1zM595 265h1v1h-1zM628 265h1v1h-1zM972 265h1v1h-1zM594 266h1v1h-1zM629 266h1v1h-1zM970 266h2v1h-2zM592 267h2v1h-2zM630 267h1v1h-1zM969 267h1v1h-1zM591 268h1v1h-1zM631 268h1v1h-1zM967 268h2v1h-2zM233 269h2v1h-2zM589 269h2v1h-2zM632 269h1v1h-1zM966 269h1v1h-1zM231 270h2v1h-2zM235 270h2v1h-2zM588 270h1v1h-1zM633 270h2v1h-2zM965 270h1v1h-1zM229 271h2v1h-2zM237 271h2v1h-2zM587 271h1v1h-1zM635 271h2v1h-2zM963 271h2v1h-2zM227 272h2v1h-2zM239 272h2v1h-2zM585 272h2v1h-2zM637 272h2v1h-2zM962 272h1v1h-1zM226 273h1v1h-1zM241 273h1v1h-1zM584 273h1v1h-1zM639 273h3v1h-3zM960 273h2v1h-2zM225 274h1v1h-1zM583 274h1v1h-1zM642 274h4v1h-4zM959 274h1v1h-1zM224 275h1v1h-1zM646 275h3v1h-3zM958 275h1v1h-1zM223 276h1v1h-1zM649 276h2v1h-2zM956 276h2v1h-2zM222 277h1v1h-1zM581 277h1v1h-1zM651 277h2v1h-2zM955 277h1v1h-1zM221 278h1v1h-1zM244 278h1v1h-1zM580 278h1v1h-1zM653 278h3v1h-3zM953 278h2v1h-2zM220 279h1v1h-1zM656 279h4v1h-4zM951 279h2v1h-2zM218 280h2v1h-2zM660 280h33v1h-33zM949 280h2v1h-2zM217 281h1v1h-1zM578 281h1v1h-1zM693 281h7v1h-7zM947 281h2v1h-2zM216 282h1v1h-1zM577 282h1v1h-1zM700 282h21v1h-21zM945 282h2v1h-2zM214 283h2v1h-2zM721 283h5v1h-5zM943 283h2v1h-2zM213 284h1v1h-1zM726 284h4v1h-4zM941 284h2v1h-2zM211 285h2v1h-2zM248 285h1v1h-1zM575 285h1v1h-1zM730 285h3v1h-3zM939 285h2v1h-2zM210 286h1v1h-1zM733 286h2v1h-2zM937 286h2v1h-2zM164 287h4v1h-4zM209 287h1v1h-1zM735 287h2v1h-2zM935 287h2v1h-2zM162 288h2v1h-2zM168 288h4v1h-4zM207 288h2v1h-2zM250 288h1v1h-1zM573 288h1v1h-1zM737 288h2v1h-2zM933 288h2v1h-2zM161 289h1v1h-1zM172 289h2v1h-2zM206 289h1v1h-1zM572 289h1v1h-1zM739 289h2v1h-2zM919 289h5v1h-5zM929 289h4v1h-4zM160 290h1v1h-1zM174 290h2v1h-2zM205 290h1v1h-1zM741 290h2v1h-2zM917 290h2v1h-2zM924 290h5v1h-5zM158 291h2v1h-2zM176 291h2v1h-2zM204 291h1v1h-1zM743 291h2v1h-2zM915 291h2v1h-2zM156 292h2v1h-2zM178 292h1v1h-1zM202 292h2v1h-2zM570 292h1v1h-1zM745 292h1v1h-1zM905 292h10v1h-10zM129 293h18v1h-18zM152 293h4v1h-4zM179 293h2v1h-2zM201 293h1v1h-1zM253 293h1v1h-1zM746 293h2v1h-2zM901 293h4v1h-4zM128 294h1v1h-1zM147 294h5v1h-5zM181 294h2v1h-2zM200 294h1v1h-1zM748 294h2v1h-2zM898 294h3v1h-3zM127 295h1v1h-1zM183 295h2v1h-2zM196 295h4v1h-4zM568 295h1v1h-1zM750 295h2v1h-2zM896 295h2v1h-2zM126 296h1v1h-1zM185 296h11v1h-11zM752 296h2v1h-2zM884 296h5v1h-5zM894 296h2v1h-2zM125 297h1v1h-1zM754 297h4v1h-4zM880 297h4v1h-4zM889 297h5v1h-5zM124 298h1v1h-1zM566 298h1v1h-1zM758 298h3v1h-3zM877 298h3v1h-3zM123 299h1v1h-1zM565 299h1v1h-1zM761 299h4v1h-4zM770 299h5v1h-5zM873 299h4v1h-4zM122 300h1v1h-1zM765 300h5v1h-5zM775 300h4v1h-4zM798 300h75v1h-75zM121 301h1v1h-1zM779 301h19v1h-19zM120 302h1v1h-1zM563 302h1v1h-1zM118 305h1v1h-1zM117 306h1v1h-1zM116 307h1v1h-1zM115 308h1v1h-1zM114 309h1v1h-1zM559 309h1v1h-1zM113 310h1v1h-1zM111 313h1v1h-1zM110 314h1v1h-1zM556 314h1v1h-1zM109 315h1v1h-1zM554 315h2v1h-2zM108 316h1v1h-1zM553 316h1v1h-1zM107 317h1v1h-1zM552 317h1v1h-1zM106 318h1v1h-1zM550 318h2v1h-2zM548 319h2v1h-2zM546 320h2v1h-2zM104 321h1v1h-1zM544 321h2v1h-2zM103 322h1v1h-1zM542 322h2v1h-2zM102 323h1v1h-1zM540 323h2v1h-2zM101 324h1v1h-1zM538 324h2v1h-2zM99 325h2v1h-2zM536 325h2v1h-2zM97 326h2v1h-2zM532 326h4v1h-4zM95 327h2v1h-2zM528 327h4v1h-4zM94 328h1v1h-1zM526 328h2v1h-2zM92 329h2v1h-2zM490 329h12v1h-12zM524 329h2v1h-2zM90 330h2v1h-2zM450 330h26v1h-26zM483 330h7v1h-7zM502 330h4v1h-4zM522 330h2v1h-2zM88 331h2v1h-2zM446 331h4v1h-4zM476 331h7v1h-7zM506 331h16v1h-16zM86 332h2v1h-2zM444 332h2v1h-2zM84 333h2v1h-2zM442 333h2v1h-2zM82 334h2v1h-2zM441 334h1v1h-1zM77 335h5v1h-5zM440 335h1v1h-1zM73 336h4v1h-4zM438 336h2v1h-2zM437 337h1v1h-1zM435 340h1v1h-1zM432 345h1v1h-1zM430 348h1v1h-1zM428 351h1v1h-1zM426 354h1v1h-1zM425 355h1v1h-1zM422 358h2v1h-2zM420 359h2v1h-2zM418 360h2v1h-2zM416 361h2v1h-2zM415 362h1v1h-1zM414 363h1v1h-1zM413 364h1v1h-1zM412 365h1v1h-1zM411 366h1v1h-1zM410 367h1v1h-1zM401 387h1v1h-1zM400 388h1v1h-1zM399 389h1v1h-1zM398 390h1v1h-1zM397 391h1v1h-1zM378 392h7v1h-7zM396 392h1v1h-1zM373 393h5v1h-5zM385 393h11v1h-11zM371 394h2v1h-2zM369 395h2v1h-2zM367 396h2v1h-2zM365 397h2v1h-2zM363 398h2v1h-2zM361 399h2v1h-2zM360 400h1v1h-1zM358 401h2v1h-2zM357 402h1v1h-1zM356 403h1v1h-1zM354 404h2v1h-2zM353 405h1v1h-1zM349 412h1v1h-1zM346 417h1v1h-1zM345 418h1v1h-1zM344 419h1v1h-1zM342 422h1v1h-1zM341 423h1v1h-1zM340 424h1v1h-1zM339 425h1v1h-1zM337 428h1v1h-1zM334 433h1v1h-1zM332 436h1v1h-1zM331 437h1v1h-1zM330 438h1v1h-1zM329 439h1v1h-1zM299 440h1v1h-1zM328 440h1v1h-1zM300 441h1v1h-1zM327 441h1v1h-1zM326 442h1v1h-1zM325 443h1v1h-1zM302 444h1v1h-1zM324 444h1v1h-1zM323 445h1v1h-1zM321 446h2v1h-2zM304 447h1v1h-1zM320 447h1v1h-1zM305 448h2v1h-2zM319 448h1v1h-1zM307 449h2v1h-2zM317 449h2v1h-2zM309 450h2v1h-2zM313 450h4v1h-4zM311 451h2v1h-2z" fill="#e11fe1" shape-rendering="crispEdges"/>
<path d="M182 202h1v2h-1zM264 190h1v2h-1zM267 194h1v2h-1zM273 201h1v2h-1zM280 209h1v2h-1zM285 215h1v2h-1zM288 219h1v2h-1zM294 226h1v2h-1zM301 234h1v2h-1zM306 240h1v2h-1zM309 244h1v2h-1zM313 249h1v2h-1zM316 253h1v2h-1zM322 260h1v2h-1zM329 268h1v2h-1zM334 274h1v2h-1zM337 278h1v2h-1zM226 174h16v1h-16zM222 175h4v1h-4zM242 175h2v1h-2zM219 176h3v1h-3zM244 176h2v1h-2zM217 177h2v1h-2zM246 177h2v1h-2zM215 178h2v1h-2zM248 178h2v1h-2zM212 179h3v1h-3zM250 179h2v1h-2zM210 180h2v1h-2zM252 180h2v1h-2zM208 181h2v1h-2zM254 181h2v1h-2zM206 182h2v1h-2zM256 182h1v1h-1zM204 183h2v1h-2zM257 183h1v1h-1zM202 184h2v1h-2zM258 184h1v1h-1zM200 185h2v1h-2zM259 185h1v1h-1zM199 186h1v1h-1zM260 186h1v1h-1zM198 187h1v1h-1zM261 187h1v1h-1zM197 188h1v1h-1zM262 188h1v1h-1zM195 189h2v1h-2zM263 189h1v1h-1zM194 190h1v1h-1zM193 191h1v1h-1zM192 192h1v1h-1zM265 192h1v1h-1zM191 193h1v1h-1zM266 193h1v1h-1zM190 194h1v1h-1zM189 195h1v1h-1zM188 196h1v1h-1zM268 196h1v1h-1zM187 197h1v1h-1zM269 197h1v1h-1zM186 198h1v1h-1zM270 198h1v1h-1zM185 199h1v1h-1zM271 199h1v1h-1zM184 200h1v1h-1zM272 200h1v1h-1zM183 201h1v1h-1zM274 203h1v1h-1zM1024 203h5v1h-5zM181 204h1v1h-1zM275 204h1v1h-1zM1020 204h4v1h-4zM1029 204h11v1h-11zM180 205h1v1h-1zM276 205h1v1h-1zM1015 205h5v1h-5zM179 206h1v1h-1zM277 206h1v1h-1zM1010 206h5v1h-5zM178 207h1v1h-1zM278 207h1v1h-1zM1006 207h4v1h-4zM177 208h1v1h-1zM279 208h1v1h-1zM1003 208h3v1h-3zM176 209h1v1h-1zM999 209h4v1h-4zM175 210h1v1h-1zM996 210h3v1h-3zM174 211h1v1h-1zM281 211h1v1h-1zM994 211h2v1h-2zM173 212h1v1h-1zM282 212h1v1h-1zM992 212h2v1h-2zM172 213h1v1h-1zM283 213h1v1h-1zM989 213h3v1h-3zM171 214h1v1h-1zM284 214h1v1h-1zM987 214h2v1h-2zM170 215h1v1h-1zM985 215h2v1h-2zM169 216h1v1h-1zM982 216h3v1h-3zM168 217h1v1h-1zM286 217h1v1h-1zM980 217h2v1h-2zM167 218h1v1h-1zM287 218h1v1h-1zM978 218h2v1h-2zM166 219h1v1h-1zM975 219h3v1h-3zM165 220h1v1h-1zM973 220h2v1h-2zM164 221h1v1h-1zM289 221h1v1h-1zM971 221h2v1h-2zM163 222h1v1h-1zM290 222h1v1h-1zM968 222h3v1h-3zM162 223h1v1h-1zM291 223h1v1h-1zM964 223h4v1h-4zM160 224h2v1h-2zM292 224h1v1h-1zM961 224h3v1h-3zM159 225h1v1h-1zM293 225h1v1h-1zM959 225h2v1h-2zM158 226h1v1h-1zM957 226h2v1h-2zM157 227h1v1h-1zM952 227h5v1h-5zM155 228h2v1h-2zM295 228h1v1h-1zM947 228h5v1h-5zM154 229h1v1h-1zM296 229h1v1h-1zM943 229h4v1h-4zM153 230h1v1h-1zM297 230h1v1h-1zM940 230h3v1h-3zM151 231h2v1h-2zM298 231h1v1h-1zM938 231h2v1h-2zM150 232h1v1h-1zM299 232h1v1h-1zM936 232h2v1h-2zM148 233h2v1h-2zM300 233h1v1h-1zM933 233h3v1h-3zM147 234h1v1h-1zM931 234h2v1h-2zM146 235h1v1h-1zM929 235h2v1h-2zM144 236h2v1h-2zM302 236h1v1h-1zM926 236h3v1h-3zM143 237h1v1h-1zM303 237h1v1h-1zM924 237h2v1h-2zM141 238h2v1h-2zM304 238h1v1h-1zM922 238h2v1h-2zM140 239h1v1h-1zM305 239h1v1h-1zM920 239h2v1h-2zM139 240h1v1h-1zM918 240h2v1h-2zM137 241h2v1h-2zM916 241h2v1h-2zM136 242h1v1h-1zM307 242h1v1h-1zM609 242h14v1h-14zM914 242h2v1h-2zM135 243h1v1h-1zM308 243h1v1h-1zM602 243h7v1h-7zM623 243h7v1h-7zM913 243h1v1h-1zM134 244h1v1h-1zM597 244h5v1h-5zM630 244h5v1h-5zM911 244h2v1h-2zM132 245h2v1h-2zM593 245h4v1h-4zM635 245h4v1h-4zM910 245h1v1h-1zM131 246h1v1h-1zM310 246h1v1h-1zM590 246h3v1h-3zM639 246h5v1h-5zM909 246h1v1h-1zM130 247h1v1h-1zM311 247h1v1h-1zM586 247h4v1h-4zM644 247h7v1h-7zM907 247h2v1h-2zM129 248h1v1h-1zM312 248h1v1h-1zM583 248h3v1h-3zM651 248h7v1h-7zM906 248h1v1h-1zM127 249h2v1h-2zM579 249h4v1h-4zM658 249h35v1h-35zM904 249h2v1h-2zM125 250h2v1h-2zM577 250h2v1h-2zM693 250h7v1h-7zM903 250h1v1h-1zM123 251h2v1h-2zM314 251h1v1h-1zM575 251h2v1h-2zM700 251h5v1h-5zM902 251h1v1h-1zM122 252h1v1h-1zM315 252h1v1h-1zM573 252h2v1h-2zM705 252h4v1h-4zM900 252h2v1h-2zM120 253h2v1h-2zM571 253h2v1h-2zM709 253h5v1h-5zM899 253h1v1h-1zM119 254h1v1h-1zM570 254h1v1h-1zM714 254h7v1h-7zM897 254h2v1h-2zM118 255h1v1h-1zM317 255h1v1h-1zM568 255h2v1h-2zM721 255h5v1h-5zM895 255h2v1h-2zM116 256h2v1h-2zM318 256h1v1h-1zM566 256h2v1h-2zM726 256h2v1h-2zM893 256h2v1h-2zM115 257h1v1h-1zM319 257h1v1h-1zM564 257h2v1h-2zM728 257h2v1h-2zM892 257h1v1h-1zM113 258h2v1h-2zM320 258h1v1h-1zM563 258h1v1h-1zM730 258h3v1h-3zM890 258h2v1h-2zM111 259h2v1h-2zM321 259h1v1h-1zM561 259h2v1h-2zM733 259h2v1h-2zM888 259h2v1h-2zM109 260h2v1h-2zM559 260h2v1h-2zM735 260h2v1h-2zM886 260h2v1h-2zM108 261h1v1h-1zM557 261h2v1h-2zM737 261h3v1h-3zM884 261h2v1h-2zM106 262h2v1h-2zM323 262h1v1h-1zM555 262h2v1h-2zM740 262h2v1h-2zM882 262h2v1h-2zM104 263h2v1h-2zM324 263h1v1h-1zM553 263h2v1h-2zM742 263h2v1h-2zM880 263h2v1h-2zM102 264h2v1h-2zM325 264h1v1h-1zM551 264h2v1h-2zM744 264h3v1h-3zM877 264h3v1h-3zM100 265h2v1h-2zM326 265h1v1h-1zM548 265h3v1h-3zM747 265h4v1h-4zM873 265h4v1h-4zM98 266h2v1h-2zM327 266h1v1h-1zM546 266h2v1h-2zM751 266h3v1h-3zM870 266h3v1h-3zM96 267h2v1h-2zM328 267h1v1h-1zM544 267h2v1h-2zM754 267h2v1h-2zM868 267h2v1h-2zM93 268h3v1h-3zM541 268h3v1h-3zM756 268h2v1h-2zM866 268h2v1h-2zM91 269h2v1h-2zM537 269h4v1h-4zM758 269h47v1h-47zM861 269h5v1h-5zM89 270h2v1h-2zM330 270h1v1h-1zM534 270h3v1h-3zM805 270h7v1h-7zM854 270h7v1h-7zM87 271h2v1h-2zM331 271h1v1h-1zM530 271h4v1h-4zM812 271h42v1h-42zM85 272h2v1h-2zM332 272h1v1h-1zM527 272h3v1h-3zM83 273h2v1h-2zM333 273h1v1h-1zM525 273h2v1h-2zM81 274h2v1h-2zM523 274h2v1h-2zM79 275h2v1h-2zM520 275h3v1h-3zM77 276h2v1h-2zM335 276h1v1h-1zM516 276h4v1h-4zM75 277h2v1h-2zM336 277h1v1h-1zM511 277h5v1h-5zM73 278h2v1h-2zM476 278h7v1h-7zM504 278h7v1h-7zM469 279h7v1h-7zM483 279h7v1h-7zM497 279h7v1h-7zM338 280h1v1h-1zM462 280h7v1h-7zM490 280h7v1h-7zM339 281h1v1h-1zM455 281h7v1h-7zM340 282h1v1h-1zM450 282h5v1h-5zM341 283h1v1h-1zM446 283h4v1h-4zM342 284h2v1h-2zM441 284h5v1h-5zM344 285h1v1h-1zM436 285h5v1h-5zM345 286h1v1h-1zM432 286h4v1h-4zM346 287h1v1h-1zM429 287h3v1h-3zM347 288h2v1h-2zM425 288h4v1h-4zM349 289h2v1h-2zM422 289h3v1h-3zM351 290h2v1h-2zM418 290h4v1h-4zM353 291h2v1h-2zM415 291h3v1h-3zM355 292h2v1h-2zM413 292h2v1h-2zM357 293h2v1h-2zM411 293h2v1h-2zM359 294h3v1h-3zM408 294h3v1h-3zM362 295h2v1h-2zM406 295h2v1h-2zM364 296h2v1h-2zM404 296h2v1h-2zM366 297h3v1h-3zM402 297h2v1h-2zM369 298h2v1h-2zM400 298h2v1h-2zM371 299h2v1h-2zM398 299h2v1h-2zM373 300h5v1h-5zM396 300h2v1h-2zM378 301h7v1h-7zM392 301h4v1h-4zM385 302h7v1h-7z" fill="#ececec" shape-rendering="crispEdges"/>
<path d="M133 198h1v2h-1zM137 193h1v2h-1zM138 191h1v2h-1zM140 188h1v2h-1zM141 186h1v2h-1zM142 184h1v2h-1zM144 181h1v2h-1zM147 177h1v2h-1zM149 174h1v2h-1zM164 158h1v2h-1zM165 156h1v2h-1zM166 154h1v2h-1zM167 152h1v2h-1zM168 149h1v3h-1zM169 147h1v2h-1zM170 145h1v2h-1zM171 142h1v3h-1zM172 140h1v2h-1zM173 137h1v3h-1zM174 135h1v2h-1zM175 132h1v3h-1zM176 129h1v3h-1zM177 127h1v2h-1zM178 124h1v3h-1zM179 121h1v3h-1zM180 118h1v3h-1zM181 115h1v3h-1zM182 111h1v4h-1zM183 108h1v3h-1zM184 105h1v3h-1zM185 102h1v3h-1zM186 100h1v2h-1zM187 98h1v2h-1zM188 96h1v2h-1zM189 94h1v2h-1zM190 92h1v2h-1zM191 90h1v2h-1zM192 88h1v2h-1zM194 85h1v2h-1zM197 81h1v2h-1zM243 74h1v2h-1zM246 70h1v2h-1zM256 60h1v2h-1zM257 58h1v2h-1zM258 56h1v2h-1zM259 54h1v2h-1zM260 52h1v2h-1zM261 50h1v2h-1zM262 48h1v2h-1zM263 45h1v3h-1zM264 42h1v3h-1zM265 39h1v3h-1zM266 35h1v4h-1zM267 32h1v3h-1zM268 29h1v3h-1zM269 27h1v2h-1zM305 29h1v2h-1zM306 31h1v2h-1zM307 33h1v2h-1zM308 35h1v2h-1zM309 37h1v2h-1zM310 39h1v2h-1zM311 41h1v2h-1zM312 43h1v2h-1zM313 45h1v3h-1zM314 48h1v2h-1zM315 50h1v3h-1zM316 53h1v3h-1zM317 56h1v2h-1zM318 58h1v4h-1zM319 62h1v4h-1zM320 66h1v4h-1zM321 70h1v4h-1zM322 74h1v4h-1zM323 78h1v4h-1zM324 82h1v4h-1zM325 86h1v4h-1zM326 90h1v4h-1zM327 94h1v3h-1zM328 97h1v4h-1zM329 101h1v4h-1zM330 105h1v3h-1zM331 108h1v4h-1zM332 112h1v3h-1zM333 115h1v4h-1zM334 119h1v4h-1zM335 123h1v4h-1zM336 127h1v4h-1zM337 131h1v4h-1zM338 135h1v4h-1zM339 139h1v3h-1zM340 142h1v2h-1zM341 144h1v3h-1zM342 147h1v2h-1zM343 149h1v3h-1zM344 152h1v3h-1zM345 155h1v2h-1zM346 157h1v3h-1zM347 160h1v3h-1zM348 163h1v2h-1zM349 165h1v3h-1zM350 168h1v3h-1zM351 171h1v2h-1zM352 173h1v3h-1zM353 176h1v2h-1zM354 178h1v2h-1zM357 182h1v2h-1zM359 185h1v2h-1zM361 188h1v2h-1zM364 192h1v2h-1zM366 195h1v2h-1zM369 199h1v2h-1zM372 203h1v2h-1zM403 210h1v2h-1zM406 214h1v2h-1zM408 217h1v2h-1zM889 220h1v2h-1zM917 195h1v2h-1zM280 21h14v1h-14zM276 22h4v1h-4zM294 22h4v1h-4zM274 23h2v1h-2zM298 23h1v1h-1zM273 24h1v1h-1zM299 24h1v1h-1zM272 25h1v1h-1zM300 25h2v1h-2zM270 26h2v1h-2zM302 26h1v1h-1zM303 27h1v1h-1zM304 28h1v1h-1zM255 62h1v1h-1zM254 63h1v1h-1zM253 64h1v1h-1zM251 65h2v1h-2zM250 66h1v1h-1zM249 67h1v1h-1zM248 68h1v1h-1zM247 69h1v1h-1zM245 72h1v1h-1zM244 73h1v1h-1zM212 74h10v1h-10zM208 75h4v1h-4zM222 75h2v1h-2zM205 76h3v1h-3zM224 76h2v1h-2zM242 76h1v1h-1zM203 77h2v1h-2zM226 77h5v1h-5zM238 77h4v1h-4zM201 78h2v1h-2zM231 78h7v1h-7zM199 79h2v1h-2zM198 80h1v1h-1zM196 83h1v1h-1zM195 84h1v1h-1zM193 87h1v1h-1zM163 160h1v1h-1zM162 161h1v1h-1zM161 162h1v1h-1zM160 163h1v1h-1zM159 164h1v1h-1zM158 165h1v1h-1zM157 166h1v1h-1zM156 167h1v1h-1zM155 168h1v1h-1zM154 169h1v1h-1zM153 170h1v1h-1zM152 171h1v1h-1zM151 172h1v1h-1zM150 173h1v1h-1zM952 175h28v1h-28zM148 176h1v1h-1zM945 176h7v1h-7zM980 176h5v1h-5zM940 177h5v1h-5zM985 177h4v1h-4zM938 178h2v1h-2zM989 178h5v1h-5zM146 179h1v1h-1zM936 179h2v1h-2zM994 179h5v1h-5zM145 180h1v1h-1zM355 180h1v1h-1zM934 180h2v1h-2zM999 180h4v1h-4zM356 181h1v1h-1zM932 181h2v1h-2zM1003 181h3v1h-3zM931 182h1v1h-1zM1006 182h2v1h-2zM143 183h1v1h-1zM930 183h1v1h-1zM1008 183h2v1h-2zM358 184h1v1h-1zM928 184h2v1h-2zM1010 184h3v1h-3zM927 185h1v1h-1zM1013 185h2v1h-2zM926 186h1v1h-1zM1015 186h2v1h-2zM360 187h1v1h-1zM925 187h1v1h-1zM1017 187h3v1h-3zM924 188h1v1h-1zM1020 188h4v1h-4zM923 189h1v1h-1zM1024 189h12v1h-12zM139 190h1v1h-1zM362 190h1v1h-1zM922 190h1v1h-1zM1036 190h4v1h-4zM363 191h1v1h-1zM921 191h1v1h-1zM920 192h1v1h-1zM919 193h1v1h-1zM365 194h1v1h-1zM918 194h1v1h-1zM136 195h1v1h-1zM135 196h1v1h-1zM134 197h1v1h-1zM367 197h1v1h-1zM916 197h1v1h-1zM368 198h1v1h-1zM915 198h1v1h-1zM914 199h1v1h-1zM132 200h1v1h-1zM913 200h1v1h-1zM131 201h1v1h-1zM370 201h1v1h-1zM911 201h2v1h-2zM130 202h1v1h-1zM371 202h1v1h-1zM910 202h1v1h-1zM128 203h2v1h-2zM909 203h1v1h-1zM126 204h2v1h-2zM907 204h2v1h-2zM101 205h11v1h-11zM124 205h2v1h-2zM373 205h1v1h-1zM906 205h1v1h-1zM99 206h2v1h-2zM112 206h12v1h-12zM374 206h2v1h-2zM904 206h2v1h-2zM97 207h2v1h-2zM376 207h2v1h-2zM903 207h1v1h-1zM95 208h2v1h-2zM378 208h2v1h-2zM394 208h5v1h-5zM902 208h1v1h-1zM93 209h2v1h-2zM380 209h5v1h-5zM390 209h4v1h-4zM399 209h4v1h-4zM900 209h2v1h-2zM91 210h2v1h-2zM385 210h5v1h-5zM899 210h1v1h-1zM89 211h2v1h-2zM555 211h2v1h-2zM898 211h1v1h-1zM86 212h3v1h-3zM404 212h1v1h-1zM551 212h4v1h-4zM557 212h2v1h-2zM897 212h1v1h-1zM82 213h4v1h-4zM405 213h1v1h-1zM541 213h10v1h-10zM559 213h2v1h-2zM896 213h1v1h-1zM80 214h2v1h-2zM537 214h4v1h-4zM561 214h2v1h-2zM895 214h1v1h-1zM78 215h2v1h-2zM534 215h3v1h-3zM563 215h2v1h-2zM894 215h1v1h-1zM77 216h1v1h-1zM407 216h1v1h-1zM530 216h4v1h-4zM565 216h2v1h-2zM893 216h1v1h-1zM76 217h1v1h-1zM527 217h3v1h-3zM567 217h2v1h-2zM892 217h1v1h-1zM74 218h2v1h-2zM525 218h2v1h-2zM569 218h3v1h-3zM633 218h4v1h-4zM644 218h49v1h-49zM891 218h1v1h-1zM73 219h1v1h-1zM409 219h4v1h-4zM523 219h2v1h-2zM572 219h2v1h-2zM631 219h2v1h-2zM637 219h7v1h-7zM693 219h5v1h-5zM890 219h1v1h-1zM413 220h5v1h-5zM520 220h3v1h-3zM574 220h2v1h-2zM630 220h1v1h-1zM698 220h4v1h-4zM418 221h4v1h-4zM518 221h2v1h-2zM576 221h3v1h-3zM629 221h1v1h-1zM702 221h3v1h-3zM422 222h2v1h-2zM516 222h2v1h-2zM579 222h2v1h-2zM627 222h2v1h-2zM705 222h2v1h-2zM888 222h1v1h-1zM424 223h2v1h-2zM513 223h3v1h-3zM581 223h2v1h-2zM625 223h2v1h-2zM707 223h2v1h-2zM887 223h1v1h-1zM426 224h1v1h-1zM511 224h2v1h-2zM583 224h12v1h-12zM623 224h2v1h-2zM709 224h3v1h-3zM886 224h1v1h-1zM427 225h1v1h-1zM478 225h3v1h-3zM509 225h2v1h-2zM595 225h5v1h-5zM621 225h2v1h-2zM712 225h4v1h-4zM885 225h1v1h-1zM428 226h2v1h-2zM476 226h2v1h-2zM481 226h2v1h-2zM507 226h2v1h-2zM600 226h4v1h-4zM616 226h5v1h-5zM716 226h3v1h-3zM883 226h2v1h-2zM430 227h1v1h-1zM474 227h2v1h-2zM483 227h2v1h-2zM505 227h2v1h-2zM604 227h12v1h-12zM719 227h2v1h-2zM882 227h1v1h-1zM431 228h1v1h-1zM471 228h3v1h-3zM485 228h3v1h-3zM503 228h2v1h-2zM721 228h2v1h-2zM881 228h1v1h-1zM432 229h1v1h-1zM469 229h2v1h-2zM488 229h4v1h-4zM501 229h2v1h-2zM723 229h3v1h-3zM879 229h2v1h-2zM433 230h2v1h-2zM467 230h2v1h-2zM492 230h9v1h-9zM726 230h4v1h-4zM878 230h1v1h-1zM435 231h1v1h-1zM462 231h5v1h-5zM730 231h3v1h-3zM876 231h2v1h-2zM436 232h1v1h-1zM457 232h5v1h-5zM733 232h4v1h-4zM874 232h2v1h-2zM437 233h2v1h-2zM453 233h4v1h-4zM737 233h10v1h-10zM872 233h2v1h-2zM439 234h4v1h-4zM448 234h5v1h-5zM747 234h2v1h-2zM870 234h2v1h-2zM443 235h5v1h-5zM749 235h2v1h-2zM868 235h2v1h-2zM751 236h3v1h-3zM866 236h2v1h-2zM754 237h2v1h-2zM864 237h2v1h-2zM756 238h2v1h-2zM763 238h14v1h-14zM784 238h19v1h-19zM862 238h2v1h-2zM758 239h5v1h-5zM777 239h7v1h-7zM803 239h2v1h-2zM860 239h2v1h-2zM805 240h2v1h-2zM858 240h2v1h-2zM807 241h5v1h-5zM854 241h4v1h-4zM812 242h21v1h-21zM840 242h14v1h-14zM833 243h7v1h-7z" fill="#e6e61e" shape-rendering="crispEdges"/>
<text x="71" y="13" fill="#e6e6e6" textLength="48" lengthAdjust="spacingAndGlyphs">现货黄金</text>
<text x="117.2" y="13" fill="#ff7a00">【</text>
<text x="130.4" y="13" fill="#ff7a00" textLength="34.2" lengthAdjust="spacingAndGlyphs">240分</text>
<text x="165" y="13" fill="#ff7a00">】</text>
<g stroke="#ff7a00" stroke-width="1" fill="none"><circle cx="181.5" cy="10" r="4"/><path d="M177.5 10H185.5M181.5 6V14"/></g>
<g shape-rendering="crispEdges"><rect x="193" y="1" width="12" height="12" fill="#f4f4ff"/><rect x="193.5" y="1.5" width="12" height="12" fill="none" stroke="#6a78c8"/></g>
<path d="M194.5 8.5L197 5L199.5 8L204 3.5" stroke="#e03030" stroke-width="1.2" fill="none"/><path d="M194.5 11.5L197.5 8L200 10.5L204.5 6" stroke="#2040d0" stroke-width="1.2" fill="none"/>
<text x="208.6" y="13" text-anchor="start" fill="#e6e6e6" textLength="60.7" lengthAdjust="spacingAndGlyphs">BOLL(20,2)</text>
<text x="274.2" y="13" text-anchor="start" fill="#e6e6e6" textLength="72.8" lengthAdjust="spacingAndGlyphs">MID:5179.28</text>
<text x="355.8" y="13" text-anchor="start" fill="#c9c910" textLength="85.3" lengthAdjust="spacingAndGlyphs">UPPER:5224.62</text>
<text x="449.2" y="13" text-anchor="start" fill="#cf22cf" textLength="90.8" lengthAdjust="spacingAndGlyphs">LOWER:5133.93</text>
<text x="71" y="479.3" text-anchor="start" fill="#e6e6e6" textLength="85.4" lengthAdjust="spacingAndGlyphs">MACD(26,12,9)</text>
<text x="161.2" y="479.3" text-anchor="start" fill="#e6e6e6" textLength="57.8" lengthAdjust="spacingAndGlyphs">DIFF:29.11</text>
<text x="228.3" y="479.3" text-anchor="start" fill="#c9c910" textLength="56.4" lengthAdjust="spacingAndGlyphs">DEA:36.31</text>
<text x="294.4" y="479.3" text-anchor="start" fill="#cf22cf" textLength="75.8" lengthAdjust="spacingAndGlyphs">MACD:-14.40</text>
<g><circle cx="8" cy="471.7" r="3.6" fill="#ffffff"/><circle cx="8" cy="471.7" r="2" fill="#ff1010"/>
<line x1="13.00" y1="471.70" x2="15.20" y2="471.70" stroke="#ff1010" stroke-width="1"/>
<line x1="11.54" y1="475.24" x2="13.09" y2="476.79" stroke="#ff1010" stroke-width="1"/>
<line x1="8.00" y1="476.70" x2="8.00" y2="478.90" stroke="#ff1010" stroke-width="1"/>
<line x1="4.46" y1="475.24" x2="2.91" y2="476.79" stroke="#ff1010" stroke-width="1"/>
<line x1="3.00" y1="471.70" x2="0.80" y2="471.70" stroke="#ff1010" stroke-width="1"/>
<line x1="4.46" y1="468.16" x2="2.91" y2="466.61" stroke="#ff1010" stroke-width="1"/>
<line x1="8.00" y1="466.70" x2="8.00" y2="464.50" stroke="#ff1010" stroke-width="1"/>
<line x1="11.54" y1="468.16" x2="13.09" y2="466.61" stroke="#ff1010" stroke-width="1"/>
</g>
<rect x="1068" y="24" width="66" height="16" fill="#000"/>
<text x="1070" y="36.4" text-anchor="start" fill="#f0953a" textLength="45" lengthAdjust="spacingAndGlyphs">5777.99</text>
<rect x="1067.5" y="205.5" width="68" height="17" fill="#000" stroke="#f0953a" stroke-width="1" shape-rendering="crispEdges"/>
<text x="1071" y="217.8" text-anchor="start" fill="#f0953a" textLength="44.5" lengthAdjust="spacingAndGlyphs">5173.36</text>
<path d="M1127 201L1130.5 197L1134 201ZM1127 205L1130.5 201L1134 205Z" fill="#f0953a"/>
<g shape-rendering="crispEdges">
<rect x="1003" y="0" width="16" height="15" fill="#050505"/><rect x="1004.5" y=".5" width="13" height="13" fill="#0a0a0a" stroke="#a8a8a8"/>
<rect x="1019" y="0" width="16" height="15" fill="#050505"/><rect x="1020.5" y=".5" width="13" height="13" fill="#0a0a0a" stroke="#a8a8a8"/>
<rect x="1035" y="0" width="16" height="15" fill="#050505"/><rect x="1036.5" y=".5" width="13" height="13" fill="#0a0a0a" stroke="#a8a8a8"/>
<rect x="1051" y="0" width="16" height="15" fill="#050505"/><rect x="1052.5" y=".5" width="13" height="13" fill="#0a0a0a" stroke="#a8a8a8"/>
<g fill="#b4b4b4"><rect x="1010" y="6" width="2" height="2"/><rect x="1006" y="6" width="3" height="2"/><rect x="1013" y="6" width="3" height="2"/><rect x="1010" y="2" width="2" height="3"/><rect x="1010" y="9" width="2" height="3"/></g>
</g>
<g stroke="#b4b4b4" fill="#b4b4b4" stroke-width="1"><path d="M1023.5 3V10.5M1022 10.5H1032" fill="none"/><path d="M1023.5 1.6L1025.2 4H1021.8ZM1021.2 10.5L1023.2 9V12ZM1032.4 10.5L1030.4 9V12Z" stroke="none"/><path d="M1026.5 3V8.6" fill="none"/><path d="M1027.3 5.8L1030.2 3.4V8.2Z" stroke="none"/></g>
<g stroke="#b4b4b4" fill="#b4b4b4" stroke-width="1"><path d="M1039.5 3V10.5M1038 10.5H1048" fill="none"/><path d="M1039.5 1.6L1041.2 4H1037.8ZM1037.2 10.5L1039.2 9V12ZM1048.4 10.5L1046.4 9V12Z" stroke="none"/><path d="M1042.5 3V8.6" fill="none"/><path d="M1043.5 3L1047.3 5.8L1043.5 8.6Z" stroke="none" fill="#8c8c8c"/></g>
<g stroke="#b4b4b4" fill="#b4b4b4" stroke-width="1"><rect x="1054.5" y="2.5" width="3" height="9" fill="none" shape-rendering="crispEdges" stroke="#a0a0a0"/><rect x="1057" y="5.4" width="4" height="2.2" stroke="none"/><path d="M1060 3.6L1063.4 6.5L1060 9.4Z" stroke="none"/></g>
<text x="9.6" y="659.2" fill="#ff7a00" font-weight="bold" textLength="33" lengthAdjust="spacingAndGlyphs">240分</text>
<path d="M48 659.5L52.5 652L57 659.5Z" fill="#ff7a00"/>
<text x="81.6" y="658" fill="#f2f2f2" font-weight="bold" textLength="30" lengthAdjust="spacingAndGlyphs">01/27</text>
<text x="417.6" y="658" fill="#f2f2f2" font-weight="bold" textLength="30" lengthAdjust="spacingAndGlyphs">02/06</text>
<text x="585.6" y="658" fill="#f2f2f2" font-weight="bold" textLength="30" lengthAdjust="spacingAndGlyphs">02/12</text>
<text x="753.6" y="658" fill="#f2f2f2" font-weight="bold" textLength="30" lengthAdjust="spacingAndGlyphs">02/18</text>
<text x="921.6" y="658" fill="#f2f2f2" font-weight="bold" textLength="30" lengthAdjust="spacingAndGlyphs">02/24</text>
<rect x="132" y="646" width="163" height="16" fill="#000"/>
<text x="133.2" y="658.2" fill="#f0953a" font-size="12.6" textLength="100.2" lengthAdjust="spacingAndGlyphs" xml:space="preserve">2026/01/28 07:00</text>
<text x="236.4" y="656.6" fill="#f0953a" font-size="8" textLength="7.6" lengthAdjust="spacingAndGlyphs">～</text>
<text x="246.6" y="658.2" fill="#f0953a" font-size="12.6" textLength="30.6" lengthAdjust="spacingAndGlyphs">11:00</text>
<text x="281.2" y="658.2" fill="#f0953a" font-size="12" textLength="12" lengthAdjust="spacingAndGlyphs">三</text>
<text x="1005.3" y="639" fill="#e9edf7" font-size="30.6" textLength="98.5" lengthAdjust="spacing">FX678</text>
</svg>
</body></html>
